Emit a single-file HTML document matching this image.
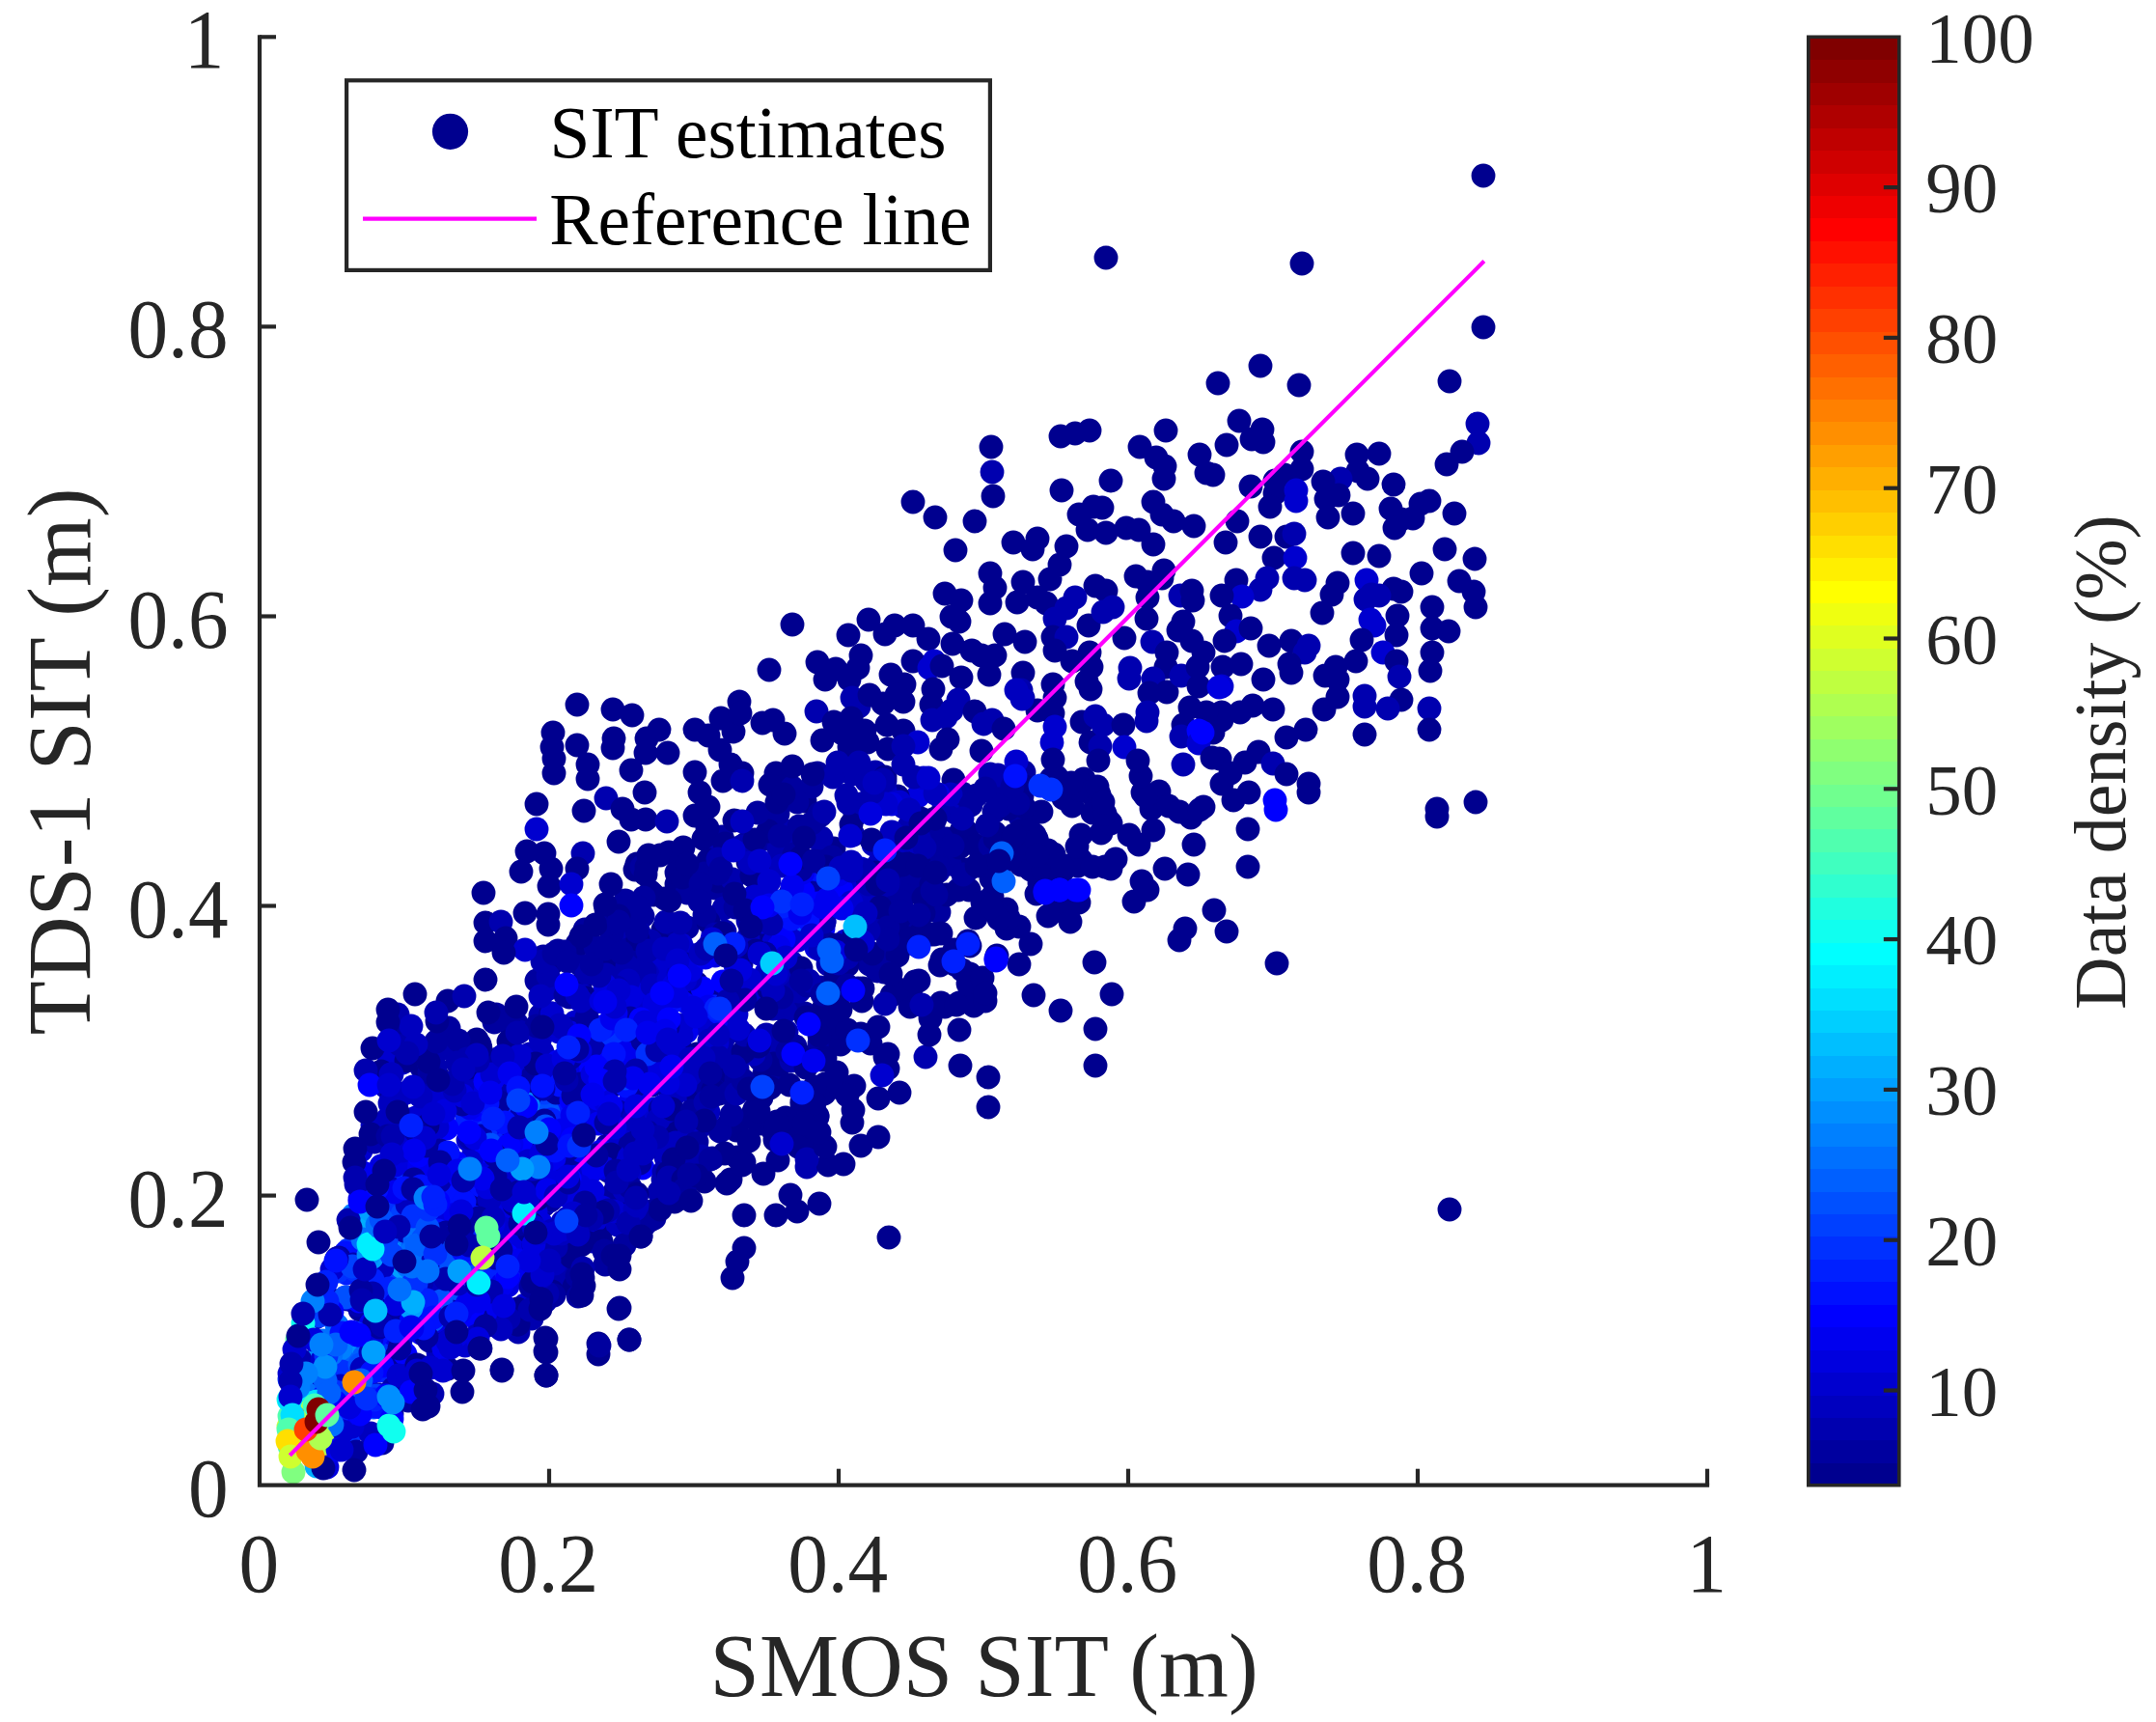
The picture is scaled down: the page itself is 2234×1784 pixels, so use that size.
<!DOCTYPE html>
<html lang="en"><head><meta charset="utf-8"><title>SIT scatter</title>
<style>html,body{margin:0;padding:0;background:#fff;overflow:hidden}svg{display:block}text{font-family:"Liberation Serif",serif}</style></head><body>
<svg width="2234" height="1784" viewBox="0 0 2234 1784">
<rect width="2234" height="1784" fill="#fff"/>
<g id="dots">
<g fill="none" stroke-linecap="round" stroke-width="24.9"><path stroke="#0000CF" d="M656 1198h0"/>
<path stroke="#0000BF" d="M444 1155h0M439 1194h0"/>
<path stroke="#0000DF" d="M826 895h0"/>
<path stroke="#00008F" d="M604 1324h0"/>
<path stroke="#0000CF" d="M596 1059h0"/>
<path stroke="#0000FF" d="M491 1166h0"/>
<path stroke="#00008F" d="M753 1226h0"/>
<path stroke="#00009F" d="M738 1200h0M602 1000h0"/>
<path stroke="#00008F" d="M728 1118h0"/>
<path stroke="#0000AF" d="M723 1170h0"/>
<path stroke="#0000CF" d="M785 1032h0"/>
<path stroke="#00009F" d="M517 1274h0"/>
<path stroke="#0000EF" d="M605 1108h0"/>
<path stroke="#0080FF" d="M404 1262h0"/>
<path stroke="#0040FF" d="M381 1445h0"/>
<path stroke="#00009F" d="M497 1082h0"/>
<path stroke="#0000BF" d="M562 1090h0"/>
<path stroke="#00008F" d="M988 808h0"/>
<path stroke="#0000AF" d="M436 1292h0"/>
<path stroke="#00008F" d="M970 942h0M649 1185h0"/>
<path stroke="#0000EF" d="M420 1432h0"/>
<path stroke="#0000BF" d="M895 981h0"/>
<path stroke="#0030FF" d="M669 1093h0"/>
<path stroke="#0000AF" d="M984 829h0"/>
<path stroke="#0000FF" d="M421 1353h0"/>
<path stroke="#0000AF" d="M430 1363h0"/>
<path stroke="#00009F" d="M857 882h0M671 1057h0"/>
<path stroke="#0010FF" d="M402 1332h0"/>
<path stroke="#0000BF" d="M443 1334h0"/>
<path stroke="#0050FF" d="M372 1393h0"/>
<path stroke="#0080FF" d="M414 1296h0"/>
<path stroke="#0000BF" d="M327 1365h0"/>
<path stroke="#00008F" d="M1107 897h0M761 931h0"/>
<path stroke="#0000BF" d="M454 1401h0"/>
<path stroke="#0010FF" d="M348 1464h0"/>
<path stroke="#00009F" d="M759 988h0"/>
<path stroke="#0000AF" d="M884 865h0"/>
<path stroke="#00008F" d="M911 1002h0"/>
<path stroke="#00009F" d="M748 867h0"/>
<path stroke="#0040FF" d="M452 1301h0"/>
<path stroke="#00008F" d="M1234 847h0"/>
<path stroke="#0000CF" d="M599 1213h0"/>
<path stroke="#00009F" d="M449 1254h0"/>
<path stroke="#0000AF" d="M386 1455h0"/>
<path stroke="#00BFFF" d="M400 1244h0"/>
<path stroke="#00008F" d="M788 1164h0M656 1148h0"/>
<path stroke="#0030FF" d="M409 1331h0"/>
<path stroke="#00008F" d="M838 1102h0"/>
<path stroke="#0000AF" d="M588 1320h0"/>
<path stroke="#0000DF" d="M418 1416h0"/>
<path stroke="#0000BF" d="M550 1251h0"/>
<path stroke="#0000CF" d="M692 1126h0"/>
<path stroke="#0010FF" d="M840 950h0"/>
<path stroke="#0000EF" d="M588 1196h0"/>
<path stroke="#0000AF" d="M651 974h0M746 1035h0"/>
<path stroke="#0070FF" d="M338 1403h0"/>
<path stroke="#00008F" d="M1193 838h0M867 1111h0"/>
<path stroke="#0000AF" d="M551 1366h0"/>
<path stroke="#00009F" d="M972 903h0"/>
<path stroke="#0000FF" d="M552 1170h0"/>
<path stroke="#00009F" d="M666 949h0"/>
<path stroke="#00008F" d="M1123 807h0"/>
<path stroke="#0080FF" d="M366 1259h0"/>
<path stroke="#00008F" d="M1031 863h0"/>
<path stroke="#00009F" d="M486 1261h0"/>
<path stroke="#0000FF" d="M521 1260h0"/>
<path stroke="#00008F" d="M1139 823h0"/>
<path stroke="#00009F" d="M557 1202h0"/>
<path stroke="#0040FF" d="M437 1230h0"/>
<path stroke="#0000EF" d="M490 1248h0"/>
<path stroke="#00008F" d="M809 1082h0M942 909h0"/>
<path stroke="#0000EF" d="M588 1154h0"/>
<path stroke="#0000AF" d="M663 985h0"/>
<path stroke="#0000BF" d="M374 1455h0"/>
<path stroke="#0000AF" d="M792 1112h0"/>
<path stroke="#0030FF" d="M579 1128h0"/>
<path stroke="#00008F" d="M1141 863h0M687 963h0M674 1264h0"/>
<path stroke="#0000CF" d="M716 1163h0"/>
<path stroke="#00008F" d="M693 883h0"/>
<path stroke="#10FFEF" d="M299 1450h0"/>
<path stroke="#0000BF" d="M549 1092h0"/>
<path stroke="#0000DF" d="M526 1332h0"/>
<path stroke="#00008F" d="M598 978h0"/>
<path stroke="#0000EF" d="M385 1457h0"/>
<path stroke="#0000DF" d="M678 1149h0"/>
<path stroke="#00009F" d="M563 1249h0"/>
<path stroke="#0050FF" d="M422 1258h0"/>
<path stroke="#0000BF" d="M614 1286h0"/>
<path stroke="#0000FF" d="M523 1161h0"/>
<path stroke="#0000AF" d="M666 992h0M741 1134h0M459 1160h0"/>
<path stroke="#00009F" d="M762 1051h0"/>
<path stroke="#0020FF" d="M386 1453h0"/>
<path stroke="#00008F" d="M758 1124h0M764 1199h0"/>
<path stroke="#00009F" d="M702 1228h0M912 993h0"/>
<path stroke="#0000BF" d="M408 1302h0"/>
<path stroke="#00009F" d="M658 1148h0"/>
<path stroke="#00008F" d="M604 1273h0"/>
<path stroke="#0000EF" d="M540 1272h0"/>
<path stroke="#00008F" d="M454 1078h0"/>
<path stroke="#0000AF" d="M943 902h0"/>
<path stroke="#0000EF" d="M393 1385h0"/>
<path stroke="#0000BF" d="M582 1226h0"/>
<path stroke="#00009F" d="M590 1033h0"/>
<path stroke="#0010FF" d="M391 1398h0"/>
<path stroke="#0000BF" d="M748 1063h0M444 1132h0"/>
<path stroke="#0050FF" d="M325 1421h0"/>
<path stroke="#BFFF40" d="M299 1478h0"/>
<path stroke="#0000FF" d="M426 1363h0"/>
<path stroke="#00009F" d="M535 1060h0"/>
<path stroke="#0010FF" d="M847 912h0"/>
<path stroke="#0000EF" d="M583 1208h0"/>
<path stroke="#00009F" d="M710 898h0"/>
<path stroke="#0000EF" d="M760 1055h0"/>
<path stroke="#0000BF" d="M891 968h0"/>
<path stroke="#0000FF" d="M554 1201h0"/>
<path stroke="#0070FF" d="M414 1292h0"/>
<path stroke="#00008F" d="M1053 879h0"/>
<path stroke="#00FFFF" d="M407 1273h0"/>
<path stroke="#00009F" d="M546 1184h0M550 1189h0"/>
<path stroke="#0000EF" d="M370 1418h0"/>
<path stroke="#0020FF" d="M484 1159h0"/>
<path stroke="#00009F" d="M792 869h0"/>
<path stroke="#0000AF" d="M578 1324h0"/>
<path stroke="#0000DF" d="M476 1385h0"/>
<path stroke="#0000EF" d="M588 1160h0"/>
<path stroke="#00009F" d="M850 1023h0"/>
<path stroke="#0000AF" d="M794 1072h0"/>
<path stroke="#0000DF" d="M685 1018h0"/>
<path stroke="#0020FF" d="M502 1317h0"/>
<path stroke="#0000BF" d="M690 1199h0"/>
<path stroke="#0030FF" d="M506 1188h0"/>
<path stroke="#0010FF" d="M430 1367h0"/>
<path stroke="#0000BF" d="M777 932h0"/>
<path stroke="#0000CF" d="M672 1109h0"/>
<path stroke="#0000EF" d="M461 1377h0"/>
<path stroke="#0000DF" d="M570 1201h0M591 1107h0"/>
<path stroke="#0000FF" d="M597 1100h0"/>
<path stroke="#00009F" d="M1030 822h0M483 1275h0"/>
<path stroke="#0000AF" d="M566 1187h0"/>
<path stroke="#0070FF" d="M429 1306h0"/>
<path stroke="#0000BF" d="M826 898h0M700 981h0"/>
<path stroke="#008FFF" d="M451 1344h0"/>
<path stroke="#00009F" d="M741 920h0"/>
<path stroke="#0010FF" d="M479 1344h0"/>
<path stroke="#0000BF" d="M328 1356h0"/>
<path stroke="#0000FF" d="M499 1182h0M857 911h0"/>
<path stroke="#0000CF" d="M614 1241h0"/>
<path stroke="#00008F" d="M744 913h0"/>
<path stroke="#0000FF" d="M359 1447h0"/>
<path stroke="#00008F" d="M635 961h0M684 886h0"/>
<path stroke="#0000AF" d="M807 879h0"/>
<path stroke="#0000EF" d="M578 1100h0"/>
<path stroke="#0000AF" d="M565 1348h0"/>
<path stroke="#0000BF" d="M508 1100h0"/>
<path stroke="#0000AF" d="M506 1316h0"/>
<path stroke="#00AFFF" d="M316 1443h0"/>
<path stroke="#009FFF" d="M406 1276h0"/>
<path stroke="#0000EF" d="M397 1208h0"/>
<path stroke="#00008F" d="M701 1205h0"/>
<path stroke="#0000BF" d="M516 1098h0"/>
<path stroke="#0000CF" d="M738 984h0"/>
<path stroke="#0000EF" d="M535 1192h0"/>
<path stroke="#0030FF" d="M354 1404h0"/>
<path stroke="#0000FF" d="M638 1108h0"/>
<path stroke="#0000AF" d="M560 1052h0M823 870h0"/>
<path stroke="#00008F" d="M729 869h0M996 861h0"/>
<path stroke="#0000EF" d="M629 1107h0"/>
<path stroke="#00009F" d="M753 1096h0"/>
<path stroke="#008FFF" d="M376 1295h0"/>
<path stroke="#00009F" d="M820 1026h0M816 1041h0M662 1043h0"/>
<path stroke="#0000FF" d="M453 1256h0"/>
<path stroke="#0070FF" d="M309 1418h0"/>
<path stroke="#0000CF" d="M708 1103h0"/>
<path stroke="#0000AF" d="M596 1283h0"/>
<path stroke="#0010FF" d="M366 1460h0"/>
<path stroke="#00009F" d="M529 1233h0"/>
<path stroke="#0000EF" d="M540 1197h0"/>
<path stroke="#00008F" d="M939 970h0"/>
<path stroke="#00009F" d="M519 1284h0"/>
<path stroke="#0000CF" d="M691 1093h0"/>
<path stroke="#0000FF" d="M538 1157h0"/>
<path stroke="#00008F" d="M864 879h0"/>
<path stroke="#0000AF" d="M917 897h0"/>
<path stroke="#0000BF" d="M839 973h0"/>
<path stroke="#00009F" d="M551 1299h0"/>
<path stroke="#0000DF" d="M631 1165h0"/>
<path stroke="#0000EF" d="M615 1210h0"/>
<path stroke="#0060FF" d="M394 1281h0"/>
<path stroke="#0000BF" d="M712 1099h0"/>
<path stroke="#0000EF" d="M653 1141h0"/>
<path stroke="#00009F" d="M741 1038h0"/>
<path stroke="#0000DF" d="M539 1233h0"/>
<path stroke="#0000CF" d="M535 1206h0"/>
<path stroke="#0000AF" d="M342 1346h0"/>
<path stroke="#0000DF" d="M951 825h0"/>
<path stroke="#0000AF" d="M815 1069h0"/>
<path stroke="#0000BF" d="M910 896h0"/>
<path stroke="#0000AF" d="M907 800h0"/>
<path stroke="#00008F" d="M847 1156h0"/>
<path stroke="#0000CF" d="M682 1000h0"/>
<path stroke="#00009F" d="M928 897h0"/>
<path stroke="#0000DF" d="M740 1043h0"/>
<path stroke="#0000FF" d="M443 1218h0"/>
<path stroke="#00009F" d="M636 1124h0"/>
<path stroke="#00BFFF" d="M364 1305h0"/>
<path stroke="#0000AF" d="M683 1235h0M804 1026h0"/>
<path stroke="#0000FF" d="M666 1210h0"/>
<path stroke="#0010FF" d="M526 1195h0"/>
<path stroke="#00008F" d="M572 1338h0M883 910h0"/>
<path stroke="#00009F" d="M373 1357h0"/>
<path stroke="#00008F" d="M975 1039h0"/>
<path stroke="#0010FF" d="M455 1380h0"/>
<path stroke="#0000AF" d="M749 1088h0"/>
<path stroke="#0050FF" d="M447 1239h0"/>
<path stroke="#0000AF" d="M1026 802h0"/>
<path stroke="#20FFDF" d="M339 1492h0"/>
<path stroke="#0000AF" d="M751 965h0"/>
<path stroke="#00008F" d="M601 1021h0"/>
<path stroke="#0000CF" d="M876 919h0"/>
<path stroke="#0000DF" d="M362 1487h0"/>
<path stroke="#00008F" d="M791 965h0"/>
<path stroke="#00009F" d="M814 962h0"/>
<path stroke="#0000CF" d="M500 1240h0M708 1066h0"/>
<path stroke="#0000BF" d="M405 1169h0M400 1253h0"/>
<path stroke="#00009F" d="M514 1051h0"/>
<path stroke="#0000CF" d="M644 1239h0"/>
<path stroke="#0000AF" d="M744 887h0M814 861h0"/>
<path stroke="#0000DF" d="M410 1210h0"/>
<path stroke="#0010FF" d="M386 1329h0"/>
<path stroke="#0000EF" d="M498 1147h0"/>
<path stroke="#00009F" d="M546 1113h0"/>
<path stroke="#00008F" d="M834 830h0M698 1161h0M964 968h0"/>
<path stroke="#00009F" d="M606 963h0"/>
<path stroke="#0000EF" d="M468 1241h0"/>
<path stroke="#0070FF" d="M634 1066h0"/>
<path stroke="#0000EF" d="M711 1038h0"/>
<path stroke="#00009F" d="M629 1187h0"/>
<path stroke="#00008F" d="M847 1157h0"/>
<path stroke="#00009F" d="M806 843h0"/>
<path stroke="#0000AF" d="M768 880h0"/>
<path stroke="#0000DF" d="M478 1219h0"/>
<path stroke="#00009F" d="M395 1375h0"/>
<path stroke="#00008F" d="M595 1333h0"/>
<path stroke="#0000FF" d="M643 1051h0"/>
<path stroke="#00008F" d="M722 1019h0"/>
<path stroke="#0030FF" d="M407 1258h0"/>
<path stroke="#00008F" d="M623 987h0"/>
<path stroke="#0000EF" d="M544 1208h0"/>
<path stroke="#0000FF" d="M561 1115h0"/>
<path stroke="#0000AF" d="M538 1069h0M714 989h0"/>
<path stroke="#0000EF" d="M458 1366h0"/>
<path stroke="#00009F" d="M484 1084h0"/>
<path stroke="#0000FF" d="M344 1460h0"/>
<path stroke="#0000CF" d="M702 1116h0M549 1255h0M561 1242h0"/>
<path stroke="#0000DF" d="M588 1109h0"/>
<path stroke="#00009F" d="M1040 819h0M834 1050h0"/>
<path stroke="#0000DF" d="M541 1221h0"/>
<path stroke="#0020FF" d="M452 1352h0"/>
<path stroke="#0000FF" d="M504 1175h0"/>
<path stroke="#0000BF" d="M560 1075h0"/>
<path stroke="#00009F" d="M768 999h0"/>
<path stroke="#0040FF" d="M369 1278h0"/>
<path stroke="#00008F" d="M642 1018h0"/>
<path stroke="#0000CF" d="M777 959h0"/>
<path stroke="#0000AF" d="M547 1162h0"/>
<path stroke="#0000CF" d="M618 1038h0"/>
<path stroke="#0000DF" d="M847 972h0"/>
<path stroke="#00008F" d="M1077 915h0"/>
<path stroke="#0010FF" d="M502 1157h0"/>
<path stroke="#0040FF" d="M388 1416h0"/>
<path stroke="#0050FF" d="M399 1286h0"/>
<path stroke="#00009F" d="M638 1177h0"/>
<path stroke="#0000AF" d="M486 1234h0"/>
<path stroke="#0000BF" d="M689 1044h0M910 942h0M637 1251h0"/>
<path stroke="#0000AF" d="M416 1162h0"/>
<path stroke="#00008F" d="M892 1073h0"/>
<path stroke="#0000DF" d="M476 1222h0"/>
<path stroke="#00009F" d="M849 843h0"/>
<path stroke="#0000AF" d="M915 920h0M851 868h0M335 1404h0"/>
<path stroke="#0000FF" d="M495 1149h0"/>
<path stroke="#0000CF" d="M753 983h0"/>
<path stroke="#00009F" d="M973 945h0"/>
<path stroke="#0000FF" d="M577 1189h0"/>
<path stroke="#00008F" d="M1120 812h0"/>
<path stroke="#0000EF" d="M495 1189h0"/>
<path stroke="#00008F" d="M855 1123h0M1120 891h0"/>
<path stroke="#0000FF" d="M625 1085h0"/>
<path stroke="#00009F" d="M709 1067h0"/>
<path stroke="#0010FF" d="M343 1440h0"/>
<path stroke="#00008F" d="M733 858h0"/>
<path stroke="#00009F" d="M990 873h0"/>
<path stroke="#0000FF" d="M849 950h0"/>
<path stroke="#00008F" d="M924 1031h0"/>
<path stroke="#0000EF" d="M615 1212h0"/>
<path stroke="#00009F" d="M942 890h0"/>
<path stroke="#00008F" d="M622 1277h0M1170 865h0"/>
<path stroke="#0000DF" d="M493 1131h0"/>
<path stroke="#00008F" d="M1058 896h0"/>
<path stroke="#30FFCF" d="M313 1452h0"/>
<path stroke="#00008F" d="M1034 873h0"/>
<path stroke="#0030FF" d="M460 1317h0"/>
<path stroke="#10FFEF" d="M335 1475h0"/>
<path stroke="#0000EF" d="M519 1281h0"/>
<path stroke="#0060FF" d="M416 1286h0"/>
<path stroke="#0000AF" d="M505 1300h0M455 1380h0"/>
<path stroke="#00009F" d="M560 1112h0"/>
<path stroke="#0000AF" d="M390 1340h0"/>
<path stroke="#00008F" d="M1145 898h0"/>
<path stroke="#0000FF" d="M435 1239h0"/>
<path stroke="#0010FF" d="M507 1265h0"/>
<path stroke="#00009F" d="M636 1236h0"/>
<path stroke="#0030FF" d="M361 1295h0"/>
<path stroke="#0000EF" d="M506 1237h0"/>
<path stroke="#0000CF" d="M794 911h0"/>
<path stroke="#0000BF" d="M902 835h0"/>
<path stroke="#0000AF" d="M747 1130h0"/>
<path stroke="#00009F" d="M860 910h0"/>
<path stroke="#0020FF" d="M740 1043h0"/>
<path stroke="#0000AF" d="M636 1006h0"/>
<path stroke="#0080FF" d="M445 1370h0"/>
<path stroke="#0000EF" d="M415 1381h0"/>
<path stroke="#00009F" d="M483 1256h0"/>
<path stroke="#0060FF" d="M352 1433h0"/>
<path stroke="#0020FF" d="M359 1319h0"/>
<path stroke="#0080FF" d="M404 1285h0"/>
<path stroke="#0000DF" d="M525 1251h0"/>
<path stroke="#0000BF" d="M936 836h0"/>
<path stroke="#00008F" d="M631 1018h0"/>
<path stroke="#00009F" d="M698 958h0"/>
<path stroke="#00008F" d="M893 1037h0"/>
<path stroke="#0000DF" d="M646 1187h0M678 1070h0"/>
<path stroke="#0000AF" d="M398 1086h0"/>
<path stroke="#0010FF" d="M610 1135h0"/>
<path stroke="#00009F" d="M694 1151h0"/>
<path stroke="#00008F" d="M952 1016h0"/>
<path stroke="#0040FF" d="M473 1342h0"/>
<path stroke="#0000CF" d="M466 1139h0"/>
<path stroke="#00008F" d="M1089 807h0"/>
<path stroke="#0000AF" d="M491 1113h0"/>
<path stroke="#0000CF" d="M600 1069h0"/>
<path stroke="#FFFF00" d="M331 1490h0"/>
<path stroke="#0000CF" d="M514 1367h0"/>
<path stroke="#00008F" d="M1184 821h0"/>
<path stroke="#FF8000" d="M308 1496h0"/>
<path stroke="#00009F" d="M773 874h0M841 815h0"/>
<path stroke="#0000CF" d="M892 900h0"/>
<path stroke="#0000AF" d="M641 1103h0"/>
<path stroke="#50FFAF" d="M300 1467h0"/>
<path stroke="#00009F" d="M930 936h0"/>
<path stroke="#0000AF" d="M688 1214h0"/>
<path stroke="#0000FF" d="M399 1334h0"/>
<path stroke="#0000AF" d="M858 999h0M397 1345h0"/>
<path stroke="#0000EF" d="M506 1309h0"/>
<path stroke="#0000AF" d="M469 1086h0"/>
<path stroke="#00008F" d="M1011 951h0"/>
<path stroke="#0000DF" d="M655 1047h0"/>
<path stroke="#00008F" d="M989 984h0"/>
<path stroke="#0000DF" d="M659 1131h0"/>
<path stroke="#0000EF" d="M487 1148h0"/>
<path stroke="#0000BF" d="M719 1135h0"/>
<path stroke="#0000DF" d="M679 1104h0M846 982h0"/>
<path stroke="#0000FF" d="M610 1197h0"/>
<path stroke="#00008F" d="M1201 820h0"/>
<path stroke="#0000DF" d="M524 1262h0"/>
<path stroke="#0000BF" d="M738 974h0"/>
<path stroke="#00008F" d="M930 825h0"/>
<path stroke="#0000EF" d="M671 1103h0"/>
<path stroke="#0000FF" d="M610 1162h0"/>
<path stroke="#0010FF" d="M576 1145h0"/>
<path stroke="#0000CF" d="M880 898h0"/>
<path stroke="#0000BF" d="M889 834h0"/>
<path stroke="#0000DF" d="M496 1131h0"/>
<path stroke="#00008F" d="M943 1043h0"/>
<path stroke="#0000DF" d="M684 1107h0"/>
<path stroke="#00008F" d="M1150 852h0"/>
<path stroke="#0000CF" d="M403 1101h0"/>
<path stroke="#00009F" d="M802 1111h0"/>
<path stroke="#0000DF" d="M429 1206h0"/>
<path stroke="#00009F" d="M667 1270h0"/>
<path stroke="#00008F" d="M942 967h0"/>
<path stroke="#0020FF" d="M380 1399h0"/>
<path stroke="#0000BF" d="M386 1166h0"/>
<path stroke="#0000AF" d="M472 1319h0"/>
<path stroke="#0000EF" d="M501 1350h0"/>
<path stroke="#0070FF" d="M538 1144h0"/>
<path stroke="#00008F" d="M930 990h0"/>
<path stroke="#00009F" d="M663 1205h0"/>
<path stroke="#0000DF" d="M806 934h0"/>
<path stroke="#00008F" d="M512 1236h0"/>
<path stroke="#0000AF" d="M662 966h0"/>
<path stroke="#0000BF" d="M777 1083h0"/>
<path stroke="#00009F" d="M759 1025h0"/>
<path stroke="#0000DF" d="M865 909h0"/>
<path stroke="#0000EF" d="M401 1395h0"/>
<path stroke="#0000AF" d="M883 802h0"/>
<path stroke="#0000BF" d="M640 1269h0"/>
<path stroke="#00008F" d="M777 933h0"/>
<path stroke="#00009F" d="M594 988h0"/>
<path stroke="#0040FF" d="M414 1323h0"/>
<path stroke="#0000AF" d="M942 856h0"/>
<path stroke="#0000BF" d="M762 939h0"/>
<path stroke="#0000DF" d="M540 1102h0M550 1268h0"/>
<path stroke="#00009F" d="M847 801h0"/>
<path stroke="#0070FF" d="M389 1248h0"/>
<path stroke="#0000BF" d="M782 928h0"/>
<path stroke="#0000FF" d="M409 1411h0"/>
<path stroke="#00009F" d="M663 1272h0"/>
<path stroke="#0000AF" d="M555 1359h0"/>
<path stroke="#0000DF" d="M608 1070h0"/>
<path stroke="#0000AF" d="M444 1259h0"/>
<path stroke="#00008F" d="M645 1258h0M708 878h0"/>
<path stroke="#00009F" d="M598 1322h0"/>
<path stroke="#00008F" d="M701 916h0M634 1003h0"/>
<path stroke="#0000FF" d="M640 1074h0"/>
<path stroke="#00009F" d="M824 1084h0"/>
<path stroke="#0020FF" d="M510 1331h0"/>
<path stroke="#00009F" d="M574 1342h0"/>
<path stroke="#0000AF" d="M775 954h0"/>
<path stroke="#0000CF" d="M688 1182h0"/>
<path stroke="#0000EF" d="M563 1221h0"/>
<path stroke="#0000CF" d="M521 1097h0"/>
<path stroke="#00009F" d="M676 1124h0"/>
<path stroke="#0000FF" d="M392 1224h0"/>
<path stroke="#0000BF" d="M383 1306h0"/>
<path stroke="#0040FF" d="M400 1297h0"/>
<path stroke="#00008F" d="M660 895h0"/>
<path stroke="#0000CF" d="M617 1264h0"/>
<path stroke="#0020FF" d="M447 1289h0"/>
<path stroke="#0000AF" d="M889 932h0"/>
<path stroke="#0030FF" d="M350 1317h0"/>
<path stroke="#0000BF" d="M890 943h0"/>
<path stroke="#00008F" d="M665 1022h0"/>
<path stroke="#0000BF" d="M680 1187h0"/>
<path stroke="#0000AF" d="M694 1213h0"/>
<path stroke="#0000CF" d="M567 1299h0"/>
<path stroke="#00008F" d="M751 874h0"/>
<path stroke="#0000CF" d="M791 955h0"/>
<path stroke="#009FFF" d="M406 1299h0"/>
<path stroke="#0000DF" d="M544 1319h0"/>
<path stroke="#0070FF" d="M349 1373h0"/>
<path stroke="#00009F" d="M780 1086h0"/>
<path stroke="#0000BF" d="M786 939h0"/>
<path stroke="#00009F" d="M779 1086h0"/>
<path stroke="#00008F" d="M1072 865h0"/>
<path stroke="#00009F" d="M781 1153h0M593 1066h0"/>
<path stroke="#0000AF" d="M505 1226h0"/>
<path stroke="#00009F" d="M932 917h0"/>
<path stroke="#0020FF" d="M444 1237h0"/>
<path stroke="#0000AF" d="M441 1128h0"/>
<path stroke="#0010FF" d="M523 1160h0"/>
<path stroke="#00008F" d="M775 893h0"/>
<path stroke="#0000FF" d="M527 1299h0"/>
<path stroke="#00009F" d="M658 1125h0"/>
<path stroke="#00DFFF" d="M342 1481h0"/>
<path stroke="#0000BF" d="M401 1160h0"/>
<path stroke="#00009F" d="M590 1183h0"/>
<path stroke="#0000DF" d="M602 1173h0"/>
<path stroke="#0000AF" d="M990 842h0M453 1080h0"/>
<path stroke="#00008F" d="M745 1133h0"/>
<path stroke="#0030FF" d="M394 1403h0"/>
<path stroke="#0000FF" d="M496 1200h0"/>
<path stroke="#0000AF" d="M371 1352h0"/>
<path stroke="#0000BF" d="M651 1184h0"/>
<path stroke="#0050FF" d="M374 1443h0"/>
<path stroke="#0000FF" d="M421 1359h0"/>
<path stroke="#0030FF" d="M441 1335h0"/>
<path stroke="#0000AF" d="M416 1439h0"/>
<path stroke="#00008F" d="M1082 883h0M907 904h0"/>
<path stroke="#00009F" d="M574 1171h0"/>
<path stroke="#0000AF" d="M445 1223h0"/>
<path stroke="#0020FF" d="M505 1187h0"/>
<path stroke="#00008F" d="M944 1025h0"/>
<path stroke="#0010FF" d="M610 1085h0"/>
<path stroke="#00009F" d="M634 967h0"/>
<path stroke="#0000AF" d="M441 1361h0M724 1100h0"/>
<path stroke="#0030FF" d="M419 1366h0"/>
<path stroke="#00009F" d="M941 950h0"/>
<path stroke="#0000AF" d="M745 1109h0"/>
<path stroke="#0000BF" d="M883 835h0"/>
<path stroke="#0010FF" d="M592 1144h0"/>
<path stroke="#00AFFF" d="M382 1272h0"/>
<path stroke="#0050FF" d="M448 1317h0"/>
<path stroke="#0000AF" d="M657 1076h0"/>
<path stroke="#0020FF" d="M338 1404h0"/>
<path stroke="#0000FF" d="M463 1169h0"/>
<path stroke="#0000AF" d="M808 1032h0M437 1106h0"/>
<path stroke="#0000DF" d="M535 1215h0"/>
<path stroke="#0000AF" d="M750 941h0"/>
<path stroke="#0010FF" d="M358 1298h0"/>
<path stroke="#008FFF" d="M351 1409h0"/>
<path stroke="#0000DF" d="M517 1275h0"/>
<path stroke="#0010FF" d="M447 1281h0"/>
<path stroke="#0000FF" d="M728 1024h0"/>
<path stroke="#0000AF" d="M608 1008h0"/>
<path stroke="#0000BF" d="M917 819h0"/>
<path stroke="#8FFF70" d="M325 1506h0"/>
<path stroke="#00008F" d="M1035 902h0"/>
<path stroke="#0040FF" d="M400 1317h0"/>
<path stroke="#FFCF00" d="M328 1508h0"/>
<path stroke="#0000EF" d="M539 1196h0"/>
<path stroke="#0000BF" d="M820 997h0"/>
<path stroke="#0070FF" d="M360 1443h0"/>
<path stroke="#0000DF" d="M409 1370h0"/>
<path stroke="#00009F" d="M1057 846h0"/>
<path stroke="#0000AF" d="M537 1380h0"/>
<path stroke="#0010FF" d="M418 1419h0"/>
<path stroke="#0000CF" d="M641 1040h0"/>
<path stroke="#0020FF" d="M466 1339h0"/>
<path stroke="#0000CF" d="M613 1148h0"/>
<path stroke="#00008F" d="M647 996h0"/>
<path stroke="#0000AF" d="M777 879h0"/>
<path stroke="#0010FF" d="M494 1349h0"/>
<path stroke="#00008F" d="M957 946h0"/>
<path stroke="#00009F" d="M544 1259h0"/>
<path stroke="#0000EF" d="M516 1185h0"/>
<path stroke="#00009F" d="M520 1140h0M516 1294h0"/>
<path stroke="#0000EF" d="M479 1213h0M673 1069h0"/>
<path stroke="#00008F" d="M820 1173h0"/>
<path stroke="#0000CF" d="M556 1213h0"/>
<path stroke="#00008F" d="M536 1372h0"/>
<path stroke="#0000CF" d="M805 987h0"/>
<path stroke="#00009F" d="M360 1346h0"/>
<path stroke="#00008F" d="M815 1016h0"/>
<path stroke="#0000BF" d="M575 1309h0"/>
<path stroke="#00008F" d="M1043 942h0"/>
<path stroke="#0000BF" d="M934 873h0"/>
<path stroke="#0000AF" d="M644 1170h0"/>
<path stroke="#0030FF" d="M433 1359h0"/>
<path stroke="#0020FF" d="M394 1420h0"/>
<path stroke="#00008F" d="M757 1222h0M1005 1009h0"/>
<path stroke="#0000CF" d="M668 1114h0"/>
<path stroke="#0000BF" d="M400 1126h0"/>
<path stroke="#00008F" d="M781 1152h0M1074 926h0"/>
<path stroke="#0000CF" d="M637 1255h0"/>
<path stroke="#00008F" d="M961 862h0"/>
<path stroke="#0000DF" d="M434 1451h0"/>
<path stroke="#0000CF" d="M689 1006h0"/>
<path stroke="#00009F" d="M657 1032h0"/>
<path stroke="#0000AF" d="M412 1167h0"/>
<path stroke="#0000DF" d="M492 1243h0M741 990h0"/>
<path stroke="#0000EF" d="M436 1381h0"/>
<path stroke="#0010FF" d="M497 1299h0"/>
<path stroke="#0000AF" d="M506 1336h0"/>
<path stroke="#0000BF" d="M715 1014h0"/>
<path stroke="#00008F" d="M817 1029h0"/>
<path stroke="#009FFF" d="M417 1313h0"/>
<path stroke="#0000FF" d="M492 1365h0"/>
<path stroke="#0000CF" d="M739 968h0M639 1190h0M417 1101h0"/>
<path stroke="#0000FF" d="M434 1272h0"/>
<path stroke="#0000AF" d="M917 809h0"/>
<path stroke="#00008F" d="M701 1121h0"/>
<path stroke="#0000DF" d="M624 1251h0"/>
<path stroke="#0050FF" d="M451 1322h0"/>
<path stroke="#00009F" d="M440 1417h0"/>
<path stroke="#0000CF" d="M491 1195h0"/>
<path stroke="#0000AF" d="M658 1183h0"/>
<path stroke="#00008F" d="M732 1152h0"/>
<path stroke="#0000BF" d="M329 1407h0M448 1154h0"/>
<path stroke="#00009F" d="M762 940h0"/>
<path stroke="#0080FF" d="M437 1316h0"/>
<path stroke="#0030FF" d="M364 1483h0"/>
<path stroke="#00009F" d="M712 925h0"/>
<path stroke="#0000EF" d="M523 1314h0"/>
<path stroke="#00008F" d="M658 901h0"/>
<path stroke="#0000CF" d="M957 806h0"/>
<path stroke="#0000AF" d="M459 1086h0"/>
<path stroke="#00008F" d="M974 1000h0M496 1104h0"/>
<path stroke="#0000BF" d="M483 1390h0M825 1013h0"/>
<path stroke="#00008F" d="M1094 934h0"/>
<path stroke="#00009F" d="M843 1062h0"/>
<path stroke="#0000DF" d="M429 1431h0"/>
<path stroke="#00009F" d="M819 926h0"/>
<path stroke="#0000CF" d="M544 1352h0"/>
<path stroke="#00009F" d="M571 998h0M954 892h0"/>
<path stroke="#0030FF" d="M349 1397h0"/>
<path stroke="#0000CF" d="M415 1389h0"/>
<path stroke="#0000FF" d="M466 1305h0"/>
<path stroke="#0000AF" d="M759 911h0"/>
<path stroke="#0060FF" d="M437 1258h0"/>
<path stroke="#0000FF" d="M823 928h0"/>
<path stroke="#00008F" d="M1133 825h0"/>
<path stroke="#0030FF" d="M415 1244h0"/>
<path stroke="#0000CF" d="M562 1296h0"/>
<path stroke="#0010FF" d="M837 923h0"/>
<path stroke="#0030FF" d="M511 1310h0"/>
<path stroke="#0070FF" d="M334 1411h0"/>
<path stroke="#0000DF" d="M339 1520h0"/>
<path stroke="#00008F" d="M455 1117h0"/>
<path stroke="#0000AF" d="M468 1122h0"/>
<path stroke="#0000DF" d="M762 1000h0"/>
<path stroke="#0000AF" d="M644 1012h0"/>
<path stroke="#0070FF" d="M335 1389h0"/>
<path stroke="#0000AF" d="M396 1312h0"/>
<path stroke="#0000DF" d="M579 1222h0"/>
<path stroke="#0000CF" d="M734 1066h0"/>
<path stroke="#0000AF" d="M806 891h0"/>
<path stroke="#0000CF" d="M639 1204h0"/>
<path stroke="#0000AF" d="M674 975h0"/>
<path stroke="#0000CF" d="M715 1104h0"/>
<path stroke="#00009F" d="M351 1303h0"/>
<path stroke="#0000CF" d="M563 1241h0"/>
<path stroke="#00008F" d="M996 901h0"/>
<path stroke="#0040FF" d="M462 1293h0"/>
<path stroke="#00008F" d="M763 1171h0"/>
<path stroke="#40FFBF" d="M311 1451h0"/>
<path stroke="#0000CF" d="M540 1215h0"/>
<path stroke="#0000EF" d="M481 1260h0"/>
<path stroke="#0000FF" d="M542 1169h0"/>
<path stroke="#0000BF" d="M605 1032h0"/>
<path stroke="#0000EF" d="M853 962h0"/>
<path stroke="#0010FF" d="M640 1109h0"/>
<path stroke="#0000AF" d="M713 1119h0"/>
<path stroke="#0010FF" d="M460 1200h0"/>
<path stroke="#00009F" d="M537 1235h0M547 1199h0"/>
<path stroke="#0000CF" d="M602 1167h0"/>
<path stroke="#00009F" d="M513 1361h0"/>
<path stroke="#0000CF" d="M777 984h0"/>
<path stroke="#00008F" d="M886 845h0"/>
<path stroke="#0000DF" d="M793 931h0"/>
<path stroke="#00009F" d="M553 1113h0"/>
<path stroke="#0000AF" d="M806 1087h0"/>
<path stroke="#0030FF" d="M367 1315h0"/>
<path stroke="#0000CF" d="M690 1083h0"/>
<path stroke="#0000AF" d="M828 1027h0"/>
<path stroke="#0000FF" d="M597 1141h0"/>
<path stroke="#0000EF" d="M711 1069h0"/>
<path stroke="#0000DF" d="M675 1093h0"/>
<path stroke="#0000FF" d="M512 1277h0"/>
<path stroke="#0040FF" d="M331 1363h0"/>
<path stroke="#00008F" d="M831 1144h0"/>
<path stroke="#0000AF" d="M583 1023h0"/>
<path stroke="#00009F" d="M602 1123h0"/>
<path stroke="#0000EF" d="M509 1129h0M753 1018h0"/>
<path stroke="#00008F" d="M734 891h0"/>
<path stroke="#0000AF" d="M480 1305h0"/>
<path stroke="#0040FF" d="M349 1398h0"/>
<path stroke="#0000AF" d="M475 1291h0"/>
<path stroke="#0020FF" d="M521 1186h0"/>
<path stroke="#0000AF" d="M419 1275h0"/>
<path stroke="#00009F" d="M445 1389h0M725 1213h0"/>
<path stroke="#008FFF" d="M358 1399h0"/>
<path stroke="#00008F" d="M1068 901h0"/>
<path stroke="#0000BF" d="M384 1485h0"/>
<path stroke="#00008F" d="M1111 938h0"/>
<path stroke="#0000AF" d="M441 1235h0"/>
<path stroke="#00009F" d="M458 1074h0"/>
<path stroke="#0000AF" d="M630 1254h0"/>
<path stroke="#00008F" d="M1057 861h0M1002 862h0"/>
<path stroke="#0000AF" d="M641 1152h0"/>
<path stroke="#0000BF" d="M411 1142h0"/>
<path stroke="#00008F" d="M954 878h0"/>
<path stroke="#00009F" d="M537 1270h0M664 1281h0"/>
<path stroke="#0000DF" d="M360 1345h0"/>
<path stroke="#0000FF" d="M439 1204h0"/>
<path stroke="#0000BF" d="M567 1025h0"/>
<path stroke="#00008F" d="M873 1022h0M754 1166h0"/>
<path stroke="#0000AF" d="M474 1080h0"/>
<path stroke="#0030FF" d="M300 1429h0"/>
<path stroke="#0000FF" d="M628 1100h0"/>
<path stroke="#0060FF" d="M430 1285h0"/>
<path stroke="#00009F" d="M712 961h0"/>
<path stroke="#0000AF" d="M687 1222h0"/>
<path stroke="#00008F" d="M592 1302h0"/>
<path stroke="#0000BF" d="M885 989h0"/>
<path stroke="#00DFFF" d="M300 1451h0"/>
<path stroke="#00008F" d="M572 998h0"/>
<path stroke="#00009F" d="M665 898h0M647 1290h0M764 1126h0"/>
<path stroke="#0000FF" d="M851 965h0"/>
<path stroke="#0000BF" d="M737 1095h0M694 1191h0"/>
<path stroke="#0000FF" d="M490 1356h0"/>
<path stroke="#0000BF" d="M494 1384h0"/>
<path stroke="#00009F" d="M909 1006h0"/>
<path stroke="#0000AF" d="M414 1082h0"/>
<path stroke="#00008F" d="M1247 836h0"/>
<path stroke="#0000BF" d="M894 973h0"/>
<path stroke="#00009F" d="M984 882h0"/>
<path stroke="#00008F" d="M830 1003h0M691 1148h0"/>
<path stroke="#00009F" d="M791 915h0"/>
<path stroke="#00008F" d="M628 942h0M706 892h0"/>
<path stroke="#00009F" d="M854 955h0M556 1016h0"/>
<path stroke="#0000CF" d="M706 979h0"/>
<path stroke="#00008F" d="M1102 827h0"/>
<path stroke="#00009F" d="M827 1092h0"/>
<path stroke="#0000DF" d="M764 981h0M588 1239h0"/>
<path stroke="#0000BF" d="M396 1313h0"/>
<path stroke="#00009F" d="M1012 824h0"/>
<path stroke="#0000CF" d="M485 1181h0"/>
<path stroke="#00BFFF" d="M338 1468h0"/>
<path stroke="#0010FF" d="M505 1190h0"/>
<path stroke="#00008F" d="M981 869h0"/>
<path stroke="#0000BF" d="M714 1176h0"/>
<path stroke="#0070FF" d="M427 1271h0"/>
<path stroke="#0000AF" d="M448 1444h0"/>
<path stroke="#00008F" d="M722 1092h0"/>
<path stroke="#0000CF" d="M365 1478h0"/>
<path stroke="#0050FF" d="M438 1284h0"/>
<path stroke="#00009F" d="M1030 841h0"/>
<path stroke="#0000AF" d="M379 1406h0"/>
<path stroke="#0000EF" d="M519 1113h0"/>
<path stroke="#0000CF" d="M642 1178h0"/>
<path stroke="#0010FF" d="M649 1125h0"/>
<path stroke="#00009F" d="M592 1195h0"/>
<path stroke="#0000BF" d="M373 1421h0"/>
<path stroke="#0000AF" d="M366 1310h0M354 1389h0"/>
<path stroke="#00009F" d="M403 1180h0"/>
<path stroke="#0050FF" d="M430 1240h0"/>
<path stroke="#00008F" d="M975 967h0"/>
<path stroke="#0050FF" d="M365 1429h0"/>
<path stroke="#00008F" d="M1002 1035h0"/>
<path stroke="#0080FF" d="M322 1414h0"/>
<path stroke="#00009F" d="M686 1046h0"/>
<path stroke="#0000DF" d="M698 1019h0"/>
<path stroke="#00008F" d="M920 1092h0"/>
<path stroke="#0000DF" d="M698 1065h0M566 1116h0"/>
<path stroke="#00008F" d="M623 1286h0"/>
<path stroke="#0000FF" d="M526 1321h0"/>
<path stroke="#0000DF" d="M400 1285h0"/>
<path stroke="#0030FF" d="M419 1217h0"/>
<path stroke="#0000FF" d="M872 922h0"/>
<path stroke="#0000AF" d="M564 992h0"/>
<path stroke="#0000BF" d="M479 1125h0"/>
<path stroke="#0000DF" d="M591 1070h0"/>
<path stroke="#00008F" d="M439 1108h0"/>
<path stroke="#0070FF" d="M398 1291h0"/>
<path stroke="#00008F" d="M692 1152h0"/>
<path stroke="#00009F" d="M684 1149h0"/>
<path stroke="#0000BF" d="M905 875h0"/>
<path stroke="#0060FF" d="M353 1405h0"/>
<path stroke="#00008F" d="M536 1356h0M624 1256h0"/>
<path stroke="#0000CF" d="M891 948h0"/>
<path stroke="#0000FF" d="M622 1064h0"/>
<path stroke="#00008F" d="M854 1043h0"/>
<path stroke="#00009F" d="M828 856h0"/>
<path stroke="#0000DF" d="M451 1369h0"/>
<path stroke="#0000AF" d="M814 1048h0"/>
<path stroke="#00009F" d="M533 1174h0"/>
<path stroke="#0000CF" d="M662 1160h0"/>
<path stroke="#0000AF" d="M476 1099h0M451 1126h0"/>
<path stroke="#00008F" d="M677 927h0M608 1034h0"/>
<path stroke="#0020FF" d="M386 1326h0"/>
<path stroke="#0000CF" d="M431 1158h0"/>
<path stroke="#00008F" d="M1118 935h0"/>
<path stroke="#0000FF" d="M602 1192h0"/>
<path stroke="#00009F" d="M573 1107h0"/>
<path stroke="#0000CF" d="M706 1062h0"/>
<path stroke="#0000AF" d="M568 1011h0"/>
<path stroke="#00009F" d="M798 984h0"/>
<path stroke="#0030FF" d="M503 1173h0"/>
<path stroke="#0000AF" d="M863 805h0"/>
<path stroke="#00008F" d="M1057 805h0"/>
<path stroke="#0000BF" d="M801 984h0"/>
<path stroke="#0080FF" d="M353 1397h0"/>
<path stroke="#0000AF" d="M451 1105h0"/>
<path stroke="#0000EF" d="M682 1090h0"/>
<path stroke="#0000DF" d="M643 1213h0"/>
<path stroke="#0050FF" d="M568 1152h0"/>
<path stroke="#00008F" d="M804 801h0"/>
<path stroke="#0000FF" d="M692 1088h0"/>
<path stroke="#0050FF" d="M468 1271h0"/>
<path stroke="#0000DF" d="M633 1203h0"/>
<path stroke="#0020FF" d="M571 1160h0"/>
<path stroke="#00009F" d="M791 947h0"/>
<path stroke="#0000CF" d="M802 976h0M652 1216h0M374 1192h0"/>
<path stroke="#0000AF" d="M978 836h0"/>
<path stroke="#00008F" d="M464 1418h0"/>
<path stroke="#00009F" d="M648 933h0"/>
<path stroke="#0000AF" d="M614 1083h0"/>
<path stroke="#0000CF" d="M444 1141h0"/>
<path stroke="#00008F" d="M1039 891h0"/>
<path stroke="#0040FF" d="M564 1132h0"/>
<path stroke="#0010FF" d="M745 1049h0"/>
<path stroke="#00009F" d="M916 1007h0M862 888h0"/>
<path stroke="#00008F" d="M831 1141h0"/>
<path stroke="#0000EF" d="M506 1144h0"/>
<path stroke="#00008F" d="M835 1054h0"/>
<path stroke="#00CFFF" d="M333 1491h0"/>
<path stroke="#00008F" d="M1074 869h0"/>
<path stroke="#0000BF" d="M640 1211h0"/>
<path stroke="#00008F" d="M1014 895h0"/>
<path stroke="#0000FF" d="M525 1289h0"/>
<path stroke="#00008F" d="M1045 879h0M947 978h0"/>
<path stroke="#00009F" d="M947 917h0"/>
<path stroke="#0000CF" d="M460 1396h0"/>
<path stroke="#0000BF" d="M716 1116h0"/>
<path stroke="#0030FF" d="M442 1340h0"/>
<path stroke="#00009F" d="M563 991h0"/>
<path stroke="#00008F" d="M801 1171h0"/>
<path stroke="#00009F" d="M1061 800h0"/>
<path stroke="#0080FF" d="M432 1315h0"/>
<path stroke="#0010FF" d="M359 1344h0"/>
<path stroke="#0000CF" d="M827 974h0"/>
<path stroke="#0020FF" d="M500 1320h0"/>
<path stroke="#0000BF" d="M647 1233h0"/>
<path stroke="#00DFFF" d="M393 1274h0"/>
<path stroke="#0000DF" d="M477 1215h0"/>
<path stroke="#00009F" d="M1043 831h0"/>
<path stroke="#0000AF" d="M531 1132h0"/>
<path stroke="#0060FF" d="M348 1493h0"/>
<path stroke="#0000EF" d="M446 1222h0"/>
<path stroke="#00008F" d="M1066 858h0"/>
<path stroke="#0000AF" d="M675 1188h0"/>
<path stroke="#00008F" d="M473 1236h0"/>
<path stroke="#0040FF" d="M397 1411h0"/>
<path stroke="#0010FF" d="M366 1437h0"/>
<path stroke="#00009F" d="M651 984h0M414 1059h0"/>
<path stroke="#0000EF" d="M520 1331h0"/>
<path stroke="#00008F" d="M582 1280h0"/>
<path stroke="#0010FF" d="M414 1449h0"/>
<path stroke="#0000AF" d="M412 1051h0"/>
<path stroke="#0030FF" d="M451 1316h0"/>
<path stroke="#0000AF" d="M472 1297h0M650 1197h0"/>
<path stroke="#0000FF" d="M503 1186h0"/>
<path stroke="#00009F" d="M901 999h0M976 869h0"/>
<path stroke="#0010FF" d="M385 1343h0"/>
<path stroke="#0000CF" d="M509 1235h0M412 1180h0"/>
<path stroke="#0000BF" d="M715 1154h0"/>
<path stroke="#0000AF" d="M377 1457h0"/>
<path stroke="#0000CF" d="M538 1250h0"/>
<path stroke="#0000DF" d="M397 1111h0"/>
<path stroke="#0050FF" d="M833 953h0"/>
<path stroke="#00008F" d="M870 1127h0"/>
<path stroke="#0060FF" d="M397 1281h0"/>
<path stroke="#0000CF" d="M344 1315h0"/>
<path stroke="#0000BF" d="M924 862h0"/>
<path stroke="#00008F" d="M1132 842h0"/>
<path stroke="#00009F" d="M637 950h0"/>
<path stroke="#00008F" d="M1012 876h0"/>
<path stroke="#0000BF" d="M443 1098h0"/>
<path stroke="#0000EF" d="M623 1193h0"/>
<path stroke="#0000AF" d="M892 833h0"/>
<path stroke="#0060FF" d="M377 1406h0"/>
<path stroke="#0000EF" d="M734 1043h0"/>
<path stroke="#0030FF" d="M451 1317h0"/>
<path stroke="#0000AF" d="M465 1353h0"/>
<path stroke="#0020FF" d="M518 1150h0"/>
<path stroke="#0040FF" d="M382 1421h0"/>
<path stroke="#00008F" d="M711 1092h0M994 1039h0"/>
<path stroke="#0000AF" d="M566 1060h0"/>
<path stroke="#009FFF" d="M385 1303h0"/>
<path stroke="#00009F" d="M411 1405h0M819 1098h0"/>
<path stroke="#00008F" d="M701 904h0"/>
<path stroke="#00009F" d="M856 977h0M579 1200h0"/>
<path stroke="#0070FF" d="M334 1400h0"/>
<path stroke="#00008F" d="M842 802h0"/>
<path stroke="#0000DF" d="M658 1028h0"/>
<path stroke="#0000AF" d="M332 1413h0"/>
<path stroke="#0000EF" d="M554 1199h0"/>
<path stroke="#0000BF" d="M414 1426h0"/>
<path stroke="#00008F" d="M934 939h0M1033 990h0"/>
<path stroke="#0010FF" d="M344 1453h0"/>
<path stroke="#00008F" d="M878 1000h0"/>
<path stroke="#0000CF" d="M932 831h0"/>
<path stroke="#0000BF" d="M734 1152h0"/>
<path stroke="#00009F" d="M626 1296h0"/>
<path stroke="#0000BF" d="M949 872h0"/>
<path stroke="#00008F" d="M829 1093h0"/>
<path stroke="#0010FF" d="M335 1436h0"/>
<path stroke="#00009F" d="M934 934h0"/>
<path stroke="#008FFF" d="M331 1405h0"/>
<path stroke="#FFCF00" d="M307 1500h0"/>
<path stroke="#0070FF" d="M475 1335h0"/>
<path stroke="#0000AF" d="M817 1029h0"/>
<path stroke="#0030FF" d="M412 1431h0"/>
<path stroke="#008FFF" d="M446 1325h0"/>
<path stroke="#0000CF" d="M453 1168h0"/>
<path stroke="#0010FF" d="M669 1088h0M427 1347h0"/>
<path stroke="#0000EF" d="M401 1376h0"/>
<path stroke="#00008F" d="M1059 873h0"/>
<path stroke="#0000BF" d="M671 1009h0"/>
<path stroke="#00009F" d="M622 1132h0"/>
<path stroke="#0000AF" d="M540 1141h0M711 1226h0"/>
<path stroke="#00009F" d="M490 1246h0"/>
<path stroke="#0020FF" d="M678 1092h0"/>
<path stroke="#00008F" d="M435 1085h0"/>
<path stroke="#0030FF" d="M634 1072h0"/>
<path stroke="#0020FF" d="M403 1335h0"/>
<path stroke="#0000BF" d="M633 1017h0"/>
<path stroke="#0000EF" d="M518 1214h0"/>
<path stroke="#00009F" d="M479 1144h0"/>
<path stroke="#00008F" d="M798 1127h0"/>
<path stroke="#0000FF" d="M557 1239h0"/>
<path stroke="#0020FF" d="M379 1457h0"/>
<path stroke="#0000BF" d="M957 856h0"/>
<path stroke="#0000AF" d="M477 1311h0"/>
<path stroke="#00008F" d="M854 1133h0"/>
<path stroke="#00009F" d="M688 1043h0M675 1255h0"/>
<path stroke="#0000BF" d="M746 979h0M724 1109h0"/>
<path stroke="#00009F" d="M578 985h0"/>
<path stroke="#0000DF" d="M594 1079h0"/>
<path stroke="#00009F" d="M744 905h0"/>
<path stroke="#00008F" d="M954 967h0"/>
<path stroke="#00009F" d="M836 1021h0M849 1081h0M518 1142h0"/>
<path stroke="#0000AF" d="M407 1439h0"/>
<path stroke="#0050FF" d="M448 1368h0"/>
<path stroke="#0040FF" d="M468 1310h0"/>
<path stroke="#0010FF" d="M700 1036h0"/>
<path stroke="#00009F" d="M722 1183h0"/>
<path stroke="#00008F" d="M707 909h0"/>
<path stroke="#0010FF" d="M370 1383h0"/>
<path stroke="#0000AF" d="M979 832h0M838 1016h0M705 1201h0"/>
<path stroke="#0000EF" d="M360 1465h0"/>
<path stroke="#0030FF" d="M354 1421h0"/>
<path stroke="#0000AF" d="M641 1220h0"/>
<path stroke="#00008F" d="M744 1079h0"/>
<path stroke="#00009F" d="M730 905h0"/>
<path stroke="#00008F" d="M808 1103h0M856 898h0"/>
<path stroke="#00009F" d="M710 999h0"/>
<path stroke="#00008F" d="M968 904h0"/>
<path stroke="#0000FF" d="M554 1172h0"/>
<path stroke="#00009F" d="M724 1218h0"/>
<path stroke="#0030FF" d="M463 1281h0"/>
<path stroke="#0000AF" d="M541 1154h0"/>
<path stroke="#00008F" d="M961 930h0"/>
<path stroke="#0040FF" d="M526 1321h0"/>
<path stroke="#00008F" d="M712 895h0"/>
<path stroke="#0000AF" d="M854 955h0"/>
<path stroke="#0000BF" d="M895 930h0"/>
<path stroke="#00008F" d="M1056 960h0"/>
<path stroke="#0040FF" d="M365 1312h0"/>
<path stroke="#0000AF" d="M576 1292h0"/>
<path stroke="#0000EF" d="M578 1129h0"/>
<path stroke="#0060FF" d="M462 1320h0"/>
<path stroke="#0000FF" d="M372 1348h0"/>
<path stroke="#00008F" d="M406 1137h0"/>
<path stroke="#00009F" d="M628 1301h0"/>
<path stroke="#0000AF" d="M498 1177h0M668 1006h0"/>
<path stroke="#0000BF" d="M570 1244h0"/>
<path stroke="#00008F" d="M981 927h0"/>
<path stroke="#20FFDF" d="M318 1384h0"/>
<path stroke="#00008F" d="M1003 901h0M486 1106h0"/>
<path stroke="#0000BF" d="M353 1436h0"/>
<path stroke="#00009F" d="M518 1096h0"/>
<path stroke="#0000EF" d="M460 1397h0"/>
<path stroke="#00009F" d="M556 1063h0"/>
<path stroke="#0000AF" d="M562 996h0"/>
<path stroke="#00CFFF" d="M306 1441h0"/>
<path stroke="#0000CF" d="M794 947h0"/>
<path stroke="#00008F" d="M802 1102h0"/>
<path stroke="#0000DF" d="M538 1211h0"/>
<path stroke="#0000BF" d="M850 984h0"/>
<path stroke="#0000AF" d="M654 1188h0"/>
<path stroke="#00009F" d="M969 879h0"/>
<path stroke="#00008F" d="M602 1290h0M937 971h0"/>
<path stroke="#0000BF" d="M583 1266h0"/>
<path stroke="#0000AF" d="M918 955h0M628 1010h0"/>
<path stroke="#0000DF" d="M924 833h0"/>
<path stroke="#00009F" d="M1032 813h0"/>
<path stroke="#0000CF" d="M794 1008h0"/>
<path stroke="#00008F" d="M797 1025h0"/>
<path stroke="#0000AF" d="M898 809h0"/>
<path stroke="#0000FF" d="M749 1017h0"/>
<path stroke="#0000AF" d="M727 1198h0"/>
<path stroke="#0000BF" d="M725 1096h0"/>
<path stroke="#0000AF" d="M487 1179h0"/>
<path stroke="#00008F" d="M1187 825h0"/>
<path stroke="#0000FF" d="M426 1370h0"/>
<path stroke="#0000CF" d="M464 1390h0"/>
<path stroke="#00008F" d="M690 1162h0M922 903h0"/>
<path stroke="#0000CF" d="M664 1046h0M488 1204h0"/>
<path stroke="#0000DF" d="M625 1118h0"/>
<path stroke="#0000FF" d="M540 1182h0"/>
<path stroke="#50FFAF" d="M300 1498h0"/>
<path stroke="#00008F" d="M841 1179h0"/>
<path stroke="#00009F" d="M653 1186h0"/>
<path stroke="#0000AF" d="M567 1340h0"/>
<path stroke="#0050FF" d="M508 1186h0"/>
<path stroke="#00009F" d="M967 855h0"/>
<path stroke="#0000BF" d="M702 978h0"/>
<path stroke="#00008F" d="M788 1120h0M1114 822h0M917 805h0"/>
<path stroke="#0000AF" d="M915 964h0"/>
<path stroke="#0060FF" d="M387 1458h0"/>
<path stroke="#0000BF" d="M997 826h0"/>
<path stroke="#0010FF" d="M390 1384h0M626 1064h0"/>
<path stroke="#0000BF" d="M421 1132h0"/>
<path stroke="#00008F" d="M1211 835h0"/>
<path stroke="#00009F" d="M608 1054h0"/>
<path stroke="#0000DF" d="M551 1246h0"/>
<path stroke="#00009F" d="M678 1262h0"/>
<path stroke="#00008F" d="M537 1372h0M796 861h0"/>
<path stroke="#0000BF" d="M582 1278h0"/>
<path stroke="#00008F" d="M1062 815h0"/>
<path stroke="#0000EF" d="M384 1372h0"/>
<path stroke="#00008F" d="M798 813h0M920 1107h0M443 1166h0"/>
<path stroke="#00009F" d="M442 1385h0"/>
<path stroke="#00008F" d="M769 986h0"/>
<path stroke="#00009F" d="M676 1055h0"/>
<path stroke="#0000DF" d="M391 1376h0"/>
<path stroke="#00008F" d="M1095 805h0"/>
<path stroke="#00009F" d="M527 1060h0"/>
<path stroke="#00008F" d="M602 977h0"/>
<path stroke="#0010FF" d="M505 1143h0M523 1163h0M498 1228h0"/>
<path stroke="#0000DF" d="M685 1048h0"/>
<path stroke="#00008F" d="M734 955h0"/>
<path stroke="#0000AF" d="M764 1107h0M1034 803h0"/>
<path stroke="#0020FF" d="M395 1458h0"/>
<path stroke="#00008F" d="M1026 896h0"/>
<path stroke="#0000CF" d="M461 1139h0"/>
<path stroke="#0000AF" d="M469 1348h0"/>
<path stroke="#00008F" d="M1081 902h0"/>
<path stroke="#0000BF" d="M790 1014h0M682 1160h0"/>
<path stroke="#00BFFF" d="M344 1475h0"/>
<path stroke="#00008F" d="M491 1259h0"/>
<path stroke="#0000BF" d="M561 1323h0"/>
<path stroke="#0000FF" d="M812 973h0"/>
<path stroke="#0020FF" d="M622 1067h0"/>
<path stroke="#0000EF" d="M807 981h0"/>
<path stroke="#0010FF" d="M831 930h0"/>
<path stroke="#00008F" d="M779 907h0M984 996h0M989 999h0"/>
<path stroke="#0050FF" d="M373 1414h0"/>
<path stroke="#0000DF" d="M546 1287h0M461 1151h0"/>
<path stroke="#0000CF" d="M555 1251h0"/>
<path stroke="#00009F" d="M738 1113h0M823 885h0"/>
<path stroke="#00008F" d="M932 951h0"/>
<path stroke="#00AFFF" d="M410 1268h0"/>
<path stroke="#0000CF" d="M790 932h0"/>
<path stroke="#00009F" d="M889 1024h0M596 1142h0"/>
<path stroke="#0000AF" d="M435 1435h0"/>
<path stroke="#0000CF" d="M710 1015h0"/>
<path stroke="#0070FF" d="M376 1284h0"/>
<path stroke="#0000DF" d="M614 1113h0"/>
<path stroke="#00008F" d="M1043 962h0"/>
<path stroke="#00009F" d="M1026 876h0"/>
<path stroke="#0000DF" d="M385 1387h0"/>
<path stroke="#0020FF" d="M458 1312h0"/>
<path stroke="#0000EF" d="M648 1091h0"/>
<path stroke="#0000FF" d="M462 1244h0"/>
<path stroke="#00008F" d="M739 1116h0"/>
<path stroke="#0010FF" d="M346 1485h0"/>
<path stroke="#0000AF" d="M484 1098h0"/>
<path stroke="#0000BF" d="M658 1253h0"/>
<path stroke="#00009F" d="M746 1172h0"/>
<path stroke="#0010FF" d="M387 1232h0"/>
<path stroke="#0000AF" d="M820 1099h0"/>
<path stroke="#0000DF" d="M718 1044h0"/>
<path stroke="#0000FF" d="M396 1415h0"/>
<path stroke="#0020FF" d="M338 1328h0"/>
<path stroke="#0070FF" d="M322 1439h0"/>
<path stroke="#00008F" d="M955 899h0"/>
<path stroke="#0010FF" d="M354 1381h0"/>
<path stroke="#9FFF60" d="M312 1463h0"/>
<path stroke="#00008F" d="M779 1158h0"/>
<path stroke="#0000CF" d="M300 1423h0"/>
<path stroke="#0000AF" d="M650 1001h0"/>
<path stroke="#0000CF" d="M519 1272h0"/>
<path stroke="#0000AF" d="M744 890h0"/>
<path stroke="#0010FF" d="M450 1349h0"/>
<path stroke="#0000BF" d="M690 1193h0"/>
<path stroke="#00009F" d="M589 1191h0"/>
<path stroke="#0000CF" d="M777 1015h0"/>
<path stroke="#0050FF" d="M358 1344h0"/>
<path stroke="#0000DF" d="M479 1135h0"/>
<path stroke="#00009F" d="M403 1372h0M617 981h0"/>
<path stroke="#0000EF" d="M433 1211h0"/>
<path stroke="#00008F" d="M957 930h0M1117 897h0"/>
<path stroke="#00009F" d="M576 1132h0"/>
<path stroke="#0000BF" d="M402 1171h0"/>
<path stroke="#00008F" d="M725 1129h0"/>
<path stroke="#0000EF" d="M645 1214h0"/>
<path stroke="#0000FF" d="M351 1487h0"/>
<path stroke="#0040FF" d="M384 1450h0"/>
<path stroke="#0000CF" d="M814 992h0"/>
<path stroke="#00009F" d="M630 1213h0"/>
<path stroke="#00008F" d="M866 1011h0"/>
<path stroke="#00009F" d="M967 860h0"/>
<path stroke="#00008F" d="M571 1050h0M670 898h0"/>
<path stroke="#00009F" d="M657 952h0"/>
<path stroke="#0000AF" d="M801 1045h0"/>
<path stroke="#0000CF" d="M541 1095h0"/>
<path stroke="#0000BF" d="M651 1016h0"/>
<path stroke="#0000FF" d="M431 1232h0"/>
<path stroke="#0000AF" d="M404 1231h0"/>
<path stroke="#0000DF" d="M458 1264h0M614 1234h0"/>
<path stroke="#0000FF" d="M592 1140h0"/>
<path stroke="#0000AF" d="M750 1075h0"/>
<path stroke="#0000BF" d="M588 1262h0"/>
<path stroke="#00008F" d="M555 1102h0"/>
<path stroke="#0000BF" d="M375 1418h0M436 1136h0"/>
<path stroke="#0010FF" d="M468 1203h0"/>
<path stroke="#0000BF" d="M471 1130h0"/>
<path stroke="#00008F" d="M904 988h0"/>
<path stroke="#0010FF" d="M454 1275h0"/>
<path stroke="#00009F" d="M571 1243h0"/>
<path stroke="#0010FF" d="M837 952h0M336 1446h0"/>
<path stroke="#0000CF" d="M640 1116h0"/>
<path stroke="#0000BF" d="M700 1184h0"/>
<path stroke="#00008F" d="M672 886h0M633 1196h0"/>
<path stroke="#10FFEF" d="M314 1371h0"/>
<path stroke="#0000DF" d="M499 1219h0"/>
<path stroke="#0000BF" d="M720 1160h0"/>
<path stroke="#00008F" d="M872 1027h0"/>
<path stroke="#00009F" d="M627 1310h0"/>
<path stroke="#00008F" d="M1027 910h0"/>
<path stroke="#0000BF" d="M384 1401h0"/>
<path stroke="#00008F" d="M1132 898h0M782 1149h0"/>
<path stroke="#0010FF" d="M473 1237h0"/>
<path stroke="#00009F" d="M785 842h0"/>
<path stroke="#0000DF" d="M539 1280h0"/>
<path stroke="#0040FF" d="M417 1258h0"/>
<path stroke="#0020FF" d="M511 1159h0"/>
<path stroke="#00008F" d="M928 894h0M903 870h0M1045 951h0"/>
<path stroke="#0050FF" d="M382 1251h0"/>
<path stroke="#0000CF" d="M712 1123h0"/>
<path stroke="#0000AF" d="M768 877h0"/>
<path stroke="#0000CF" d="M572 1050h0"/>
<path stroke="#0060FF" d="M454 1310h0"/>
<path stroke="#0000AF" d="M613 1263h0"/>
<path stroke="#0000BF" d="M437 1335h0"/>
<path stroke="#00008F" d="M997 1005h0"/>
<path stroke="#0000EF" d="M551 1322h0"/>
<path stroke="#0000AF" d="M716 1216h0"/>
<path stroke="#00008F" d="M865 1120h0"/>
<path stroke="#0000AF" d="M457 1083h0M574 1194h0M406 1465h0"/>
<path stroke="#00008F" d="M771 1204h0"/>
<path stroke="#00009F" d="M997 822h0"/>
<path stroke="#00008F" d="M661 973h0M1004 922h0"/>
<path stroke="#008FFF" d="M382 1300h0"/>
<path stroke="#00008F" d="M1028 911h0"/>
<path stroke="#0000FF" d="M526 1323h0"/>
<path stroke="#00009F" d="M465 1065h0"/>
<path stroke="#0000DF" d="M503 1217h0"/>
<path stroke="#0000AF" d="M639 1023h0"/>
<path stroke="#00009F" d="M585 986h0"/>
<path stroke="#00008F" d="M871 1082h0"/>
<path stroke="#0010FF" d="M452 1307h0"/>
<path stroke="#00009F" d="M472 1316h0"/>
<path stroke="#00008F" d="M692 1215h0"/>
<path stroke="#0000CF" d="M882 935h0"/>
<path stroke="#00008F" d="M636 1212h0M1059 825h0"/>
<path stroke="#0000BF" d="M775 972h0"/>
<path stroke="#00009F" d="M841 925h0M788 1098h0"/>
<path stroke="#0000FF" d="M420 1403h0"/>
<path stroke="#00008F" d="M1120 865h0M931 1025h0"/>
<path stroke="#0000EF" d="M450 1340h0"/>
<path stroke="#0000DF" d="M561 1268h0M395 1208h0"/>
<path stroke="#00008F" d="M527 1079h0"/>
<path stroke="#00009F" d="M628 958h0"/>
<path stroke="#0000BF" d="M735 1078h0"/>
<path stroke="#00008F" d="M783 985h0"/>
<path stroke="#0000FF" d="M832 924h0"/>
<path stroke="#0000CF" d="M567 1104h0"/>
<path stroke="#0010FF" d="M580 1124h0"/>
<path stroke="#0000AF" d="M452 1283h0"/>
<path stroke="#0000EF" d="M472 1258h0"/>
<path stroke="#0000CF" d="M413 1425h0M579 1069h0"/>
<path stroke="#00BFFF" d="M311 1449h0"/>
<path stroke="#0010FF" d="M491 1261h0"/>
<path stroke="#00008F" d="M674 924h0M698 1201h0"/>
<path stroke="#0000DF" d="M601 1229h0"/>
<path stroke="#0000AF" d="M671 985h0"/>
<path stroke="#00009F" d="M726 916h0"/>
<path stroke="#0000CF" d="M876 975h0"/>
<path stroke="#0000DF" d="M555 1255h0"/>
<path stroke="#00008F" d="M969 848h0"/>
<path stroke="#0000DF" d="M650 1205h0"/>
<path stroke="#0000AF" d="M893 954h0M485 1331h0"/>
<path stroke="#0000BF" d="M459 1327h0"/>
<path stroke="#0000AF" d="M915 808h0"/>
<path stroke="#00008F" d="M1222 841h0"/>
<path stroke="#0000BF" d="M444 1312h0"/>
<path stroke="#0000DF" d="M627 1021h0"/>
<path stroke="#0000BF" d="M572 1275h0"/>
<path stroke="#00009F" d="M396 1495h0"/>
<path stroke="#0000CF" d="M627 1141h0"/>
<path stroke="#0000AF" d="M920 916h0M690 955h0M455 1224h0"/>
<path stroke="#0000DF" d="M716 1005h0"/>
<path stroke="#0000CF" d="M422 1425h0"/>
<path stroke="#00008F" d="M669 906h0"/>
<path stroke="#0000AF" d="M311 1409h0"/>
<path stroke="#00008F" d="M669 1185h0"/>
<path stroke="#0000EF" d="M731 992h0"/>
<path stroke="#00008F" d="M862 902h0M557 1242h0"/>
<path stroke="#0000AF" d="M386 1340h0M470 1209h0"/>
<path stroke="#00008F" d="M684 1253h0"/>
<path stroke="#00009F" d="M671 1173h0"/>
<path stroke="#0000BF" d="M777 894h0"/>
<path stroke="#00009F" d="M549 1135h0"/>
<path stroke="#0070FF" d="M423 1312h0"/>
<path stroke="#00EFFF" d="M337 1465h0"/>
<path stroke="#0000EF" d="M869 906h0"/>
<path stroke="#0050FF" d="M482 1297h0"/>
<path stroke="#00009F" d="M444 1191h0"/>
<path stroke="#0070FF" d="M370 1441h0"/>
<path stroke="#00008F" d="M1034 869h0"/>
<path stroke="#0040FF" d="M400 1285h0"/>
<path stroke="#0000DF" d="M410 1207h0"/>
<path stroke="#0000FF" d="M503 1120h0"/>
<path stroke="#0000EF" d="M557 1172h0"/>
<path stroke="#0000BF" d="M656 1160h0"/>
<path stroke="#0000CF" d="M652 1199h0"/>
<path stroke="#00008F" d="M814 1158h0"/>
<path stroke="#0080FF" d="M547 1144h0"/>
<path stroke="#0010FF" d="M385 1422h0M398 1452h0"/>
<path stroke="#0000AF" d="M349 1304h0"/>
<path stroke="#0000FF" d="M434 1371h0"/>
<path stroke="#00009F" d="M591 1096h0"/>
<path stroke="#0000CF" d="M510 1113h0M482 1394h0"/>
<path stroke="#00009F" d="M816 1089h0"/>
<path stroke="#0000CF" d="M574 1278h0"/>
<path stroke="#00009F" d="M852 1030h0M878 1021h0"/>
<path stroke="#0000EF" d="M516 1355h0"/>
<path stroke="#0000AF" d="M477 1328h0"/>
<path stroke="#00008F" d="M602 970h0"/>
<path stroke="#0000AF" d="M604 1314h0"/>
<path stroke="#0000EF" d="M826 936h0"/>
<path stroke="#0000AF" d="M527 1366h0"/>
<path stroke="#00008F" d="M1111 835h0M1098 821h0"/>
<path stroke="#00009F" d="M553 1218h0"/>
<path stroke="#0000FF" d="M590 1221h0"/>
<path stroke="#0000CF" d="M547 1242h0"/>
<path stroke="#0050FF" d="M483 1333h0"/>
<path stroke="#0000EF" d="M620 1164h0"/>
<path stroke="#0000CF" d="M334 1409h0"/>
<path stroke="#0010FF" d="M481 1245h0"/>
<path stroke="#0000FF" d="M474 1275h0"/>
<path stroke="#00009F" d="M730 948h0"/>
<path stroke="#0000DF" d="M576 1231h0"/>
<path stroke="#FF5000" d="M316 1478h0"/>
<path stroke="#0010FF" d="M389 1457h0"/>
<path stroke="#00009F" d="M741 1130h0"/>
<path stroke="#0000DF" d="M801 953h0"/>
<path stroke="#00008F" d="M1031 869h0"/>
<path stroke="#0000EF" d="M351 1488h0"/>
<path stroke="#0000BF" d="M519 1377h0"/>
<path stroke="#00008F" d="M689 931h0"/>
<path stroke="#0000DF" d="M489 1305h0"/>
<path stroke="#00008F" d="M724 1137h0"/>
<path stroke="#0000DF" d="M511 1268h0"/>
<path stroke="#0030FF" d="M351 1443h0"/>
<path stroke="#00009F" d="M648 1041h0M594 1135h0"/>
<path stroke="#0000BF" d="M602 1037h0"/>
<path stroke="#0000AF" d="M392 1445h0"/>
<path stroke="#00008F" d="M940 895h0"/>
<path stroke="#0000EF" d="M832 904h0"/>
<path stroke="#0000AF" d="M455 1308h0"/>
<path stroke="#0000BF" d="M781 1092h0"/>
<path stroke="#00009F" d="M553 1290h0M680 1098h0"/>
<path stroke="#0000AF" d="M693 1220h0M897 902h0"/>
<path stroke="#0000CF" d="M706 1073h0"/>
<path stroke="#0060FF" d="M365 1438h0"/>
<path stroke="#0000AF" d="M563 1128h0"/>
<path stroke="#0040FF" d="M648 1117h0M390 1446h0"/>
<path stroke="#0000BF" d="M565 1064h0"/>
<path stroke="#00009F" d="M638 956h0"/>
<path stroke="#0000DF" d="M678 1104h0"/>
<path stroke="#00008F" d="M730 1224h0"/>
<path stroke="#00009F" d="M393 1375h0"/>
<path stroke="#0000AF" d="M651 1267h0"/>
<path stroke="#0000DF" d="M659 1146h0"/>
<path stroke="#00009F" d="M826 831h0"/>
<path stroke="#00008F" d="M551 1268h0M498 1086h0"/>
<path stroke="#0000FF" d="M473 1205h0"/>
<path stroke="#00008F" d="M494 1077h0"/>
<path stroke="#0010FF" d="M390 1241h0"/>
<path stroke="#00008F" d="M1074 870h0M894 1024h0"/>
<path stroke="#0020FF" d="M484 1211h0"/>
<path stroke="#0000EF" d="M350 1462h0"/>
<path stroke="#0010FF" d="M820 952h0"/>
<path stroke="#00008F" d="M751 1195h0"/>
<path stroke="#0000BF" d="M507 1243h0"/>
<path stroke="#0000EF" d="M530 1185h0"/>
<path stroke="#0000AF" d="M621 1011h0"/>
<path stroke="#0000DF" d="M473 1384h0"/>
<path stroke="#0000AF" d="M741 968h0"/>
<path stroke="#00008F" d="M966 923h0"/>
<path stroke="#00009F" d="M758 1155h0"/>
<path stroke="#0000AF" d="M509 1338h0"/>
<path stroke="#00009F" d="M660 965h0"/>
<path stroke="#0000BF" d="M332 1424h0M690 1152h0"/>
<path stroke="#00008F" d="M818 1124h0"/>
<path stroke="#0000AF" d="M952 868h0"/>
<path stroke="#0000EF" d="M634 1055h0"/>
<path stroke="#0020FF" d="M507 1309h0"/>
<path stroke="#00008F" d="M1093 934h0"/>
<path stroke="#00009F" d="M810 1033h0M747 900h0"/>
<path stroke="#0000EF" d="M567 1233h0"/>
<path stroke="#0000CF" d="M743 1080h0"/>
<path stroke="#00008F" d="M892 1071h0"/>
<path stroke="#00009F" d="M731 1124h0"/>
<path stroke="#00008F" d="M739 1129h0M968 968h0"/>
<path stroke="#0030FF" d="M466 1282h0"/>
<path stroke="#00EFFF" d="M321 1454h0"/>
<path stroke="#0000EF" d="M373 1242h0"/>
<path stroke="#0000AF" d="M958 878h0M776 1081h0"/>
<path stroke="#00008F" d="M882 854h0"/>
<path stroke="#0030FF" d="M442 1341h0"/>
<path stroke="#0000CF" d="M881 866h0"/>
<path stroke="#00009F" d="M666 1078h0"/>
<path stroke="#0020FF" d="M444 1348h0"/>
<path stroke="#00009F" d="M657 1184h0"/>
<path stroke="#0010FF" d="M813 942h0"/>
<path stroke="#00009F" d="M550 1333h0"/>
<path stroke="#0000FF" d="M344 1359h0"/>
<path stroke="#00008F" d="M790 1130h0"/>
<path stroke="#00009F" d="M456 1192h0"/>
<path stroke="#00DFFF" d="M328 1452h0"/>
<path stroke="#0000FF" d="M847 936h0"/>
<path stroke="#00009F" d="M475 1078h0"/>
<path stroke="#0000DF" d="M637 1168h0M584 1097h0M654 1033h0"/>
<path stroke="#00009F" d="M984 895h0"/>
<path stroke="#0000BF" d="M582 1064h0"/>
<path stroke="#0000FF" d="M477 1220h0"/>
<path stroke="#00EFFF" d="M382 1289h0"/>
<path stroke="#00008F" d="M708 1222h0"/>
<path stroke="#0070FF" d="M425 1299h0"/>
<path stroke="#00009F" d="M586 1031h0"/>
<path stroke="#00008F" d="M1045 873h0"/>
<path stroke="#0030FF" d="M345 1441h0"/>
<path stroke="#0000CF" d="M918 833h0"/>
<path stroke="#0000DF" d="M440 1320h0"/>
<path stroke="#0000BF" d="M726 988h0"/>
<path stroke="#00009F" d="M429 1222h0"/>
<path stroke="#0000AF" d="M845 868h0"/>
<path stroke="#00009F" d="M445 1111h0"/>
<path stroke="#0030FF" d="M671 1092h0"/>
<path stroke="#00008F" d="M805 831h0"/>
<path stroke="#0000EF" d="M619 1138h0"/>
<path stroke="#00008F" d="M1094 920h0"/>
<path stroke="#0000AF" d="M681 1178h0"/>
<path stroke="#0000BF" d="M985 823h0"/>
<path stroke="#0000CF" d="M526 1213h0"/>
<path stroke="#00008F" d="M789 1137h0"/>
<path stroke="#00009F" d="M947 905h0"/>
<path stroke="#00008F" d="M1050 867h0M749 967h0M712 1189h0"/>
<path stroke="#0030FF" d="M470 1323h0"/>
<path stroke="#0000AF" d="M587 1119h0"/>
<path stroke="#0000BF" d="M810 897h0M443 1341h0"/>
<path stroke="#0000DF" d="M626 1210h0"/>
<path stroke="#00009F" d="M659 951h0"/>
<path stroke="#0010FF" d="M483 1303h0"/>
<path stroke="#0000BF" d="M666 1195h0"/>
<path stroke="#00009F" d="M564 1161h0"/>
<path stroke="#0000EF" d="M618 1209h0"/>
<path stroke="#00009F" d="M599 1343h0"/>
<path stroke="#FF7000" d="M324 1507h0"/>
<path stroke="#00008F" d="M761 850h0"/>
<path stroke="#00009F" d="M503 1374h0"/>
<path stroke="#0000AF" d="M437 1328h0"/>
<path stroke="#0000BF" d="M669 1187h0"/>
<path stroke="#0000AF" d="M900 916h0M388 1183h0"/>
<path stroke="#0000CF" d="M701 1093h0"/>
<path stroke="#00009F" d="M496 1262h0"/>
<path stroke="#0040FF" d="M406 1300h0"/>
<path stroke="#00009F" d="M585 1112h0"/>
<path stroke="#0000BF" d="M763 980h0"/>
<path stroke="#00008F" d="M1045 838h0"/>
<path stroke="#00009F" d="M850 845h0"/>
<path stroke="#0050FF" d="M473 1341h0"/>
<path stroke="#00009F" d="M830 901h0"/>
<path stroke="#00008F" d="M912 940h0"/>
<path stroke="#0000BF" d="M697 1136h0"/>
<path stroke="#0060FF" d="M432 1290h0"/>
<path stroke="#00008F" d="M1079 841h0M1086 881h0"/>
<path stroke="#00009F" d="M984 886h0"/>
<path stroke="#00008F" d="M1005 980h0M965 916h0"/>
<path stroke="#00009F" d="M841 853h0"/>
<path stroke="#00008F" d="M432 1414h0"/>
<path stroke="#0000EF" d="M582 1171h0"/>
<path stroke="#0000AF" d="M469 1123h0M468 1359h0"/>
<path stroke="#0000BF" d="M676 1021h0"/>
<path stroke="#0000AF" d="M659 1109h0"/>
<path stroke="#00008F" d="M810 1162h0"/>
<path stroke="#0000BF" d="M666 1170h0"/>
<path stroke="#0000DF" d="M678 1040h0"/>
<path stroke="#0000CF" d="M582 1274h0"/>
<path stroke="#0000AF" d="M736 1098h0"/>
<path stroke="#0000BF" d="M426 1063h0"/>
<path stroke="#00008F" d="M1182 804h0M909 916h0"/>
<path stroke="#00009F" d="M830 1016h0"/>
<path stroke="#0000BF" d="M882 902h0"/>
<path stroke="#0000DF" d="M972 823h0"/>
<path stroke="#0050FF" d="M565 1167h0"/>
<path stroke="#0060FF" d="M483 1328h0"/>
<path stroke="#00008F" d="M1025 897h0"/>
<path stroke="#0050FF" d="M457 1348h0"/>
<path stroke="#0000DF" d="M505 1230h0"/>
<path stroke="#0000EF" d="M514 1298h0"/>
<path stroke="#00008F" d="M1061 836h0"/>
<path stroke="#0000FF" d="M857 932h0"/>
<path stroke="#0000BF" d="M715 1114h0"/>
<path stroke="#00008F" d="M1003 975h0"/>
<path stroke="#0000AF" d="M904 821h0"/>
<path stroke="#0030FF" d="M431 1330h0"/>
<path stroke="#0000BF" d="M422 1248h0"/>
<path stroke="#00008F" d="M533 1248h0M867 1064h0"/>
<path stroke="#00009F" d="M653 1055h0"/>
<path stroke="#0000AF" d="M878 992h0"/>
<path stroke="#0000CF" d="M547 1203h0"/>
<path stroke="#00009F" d="M920 961h0M374 1337h0"/>
<path stroke="#BFFF40" d="M324 1459h0"/>
<path stroke="#0000CF" d="M538 1094h0"/>
<path stroke="#00008F" d="M855 1096h0"/>
<path stroke="#00009F" d="M632 952h0"/>
<path stroke="#0010FF" d="M436 1229h0"/>
<path stroke="#0000AF" d="M744 1095h0"/>
<path stroke="#0070FF" d="M343 1403h0"/>
<path stroke="#0040FF" d="M465 1320h0"/>
<path stroke="#00008F" d="M993 922h0"/>
<path stroke="#0000FF" d="M527 1187h0"/>
<path stroke="#0000AF" d="M484 1097h0"/>
<path stroke="#0000CF" d="M763 1051h0"/>
<path stroke="#00009F" d="M513 1219h0"/>
<path stroke="#009FFF" d="M383 1253h0"/>
<path stroke="#0030FF" d="M338 1405h0"/>
<path stroke="#0000FF" d="M406 1470h0"/>
<path stroke="#0000BF" d="M576 1239h0"/>
<path stroke="#00008F" d="M843 1133h0M805 1162h0M1028 929h0"/>
<path stroke="#60FF9F" d="M308 1388h0"/>
<path stroke="#00008F" d="M1151 853h0"/>
<path stroke="#0000CF" d="M710 1124h0"/>
<path stroke="#0010FF" d="M348 1306h0"/>
<path stroke="#00008F" d="M1116 877h0M696 1149h0"/>
<path stroke="#0000FF" d="M434 1197h0"/>
<path stroke="#00008F" d="M844 1126h0"/>
<path stroke="#0000EF" d="M656 1117h0"/>
<path stroke="#00008F" d="M860 1054h0"/>
<path stroke="#0000AF" d="M879 832h0"/>
<path stroke="#0000EF" d="M638 1050h0"/>
<path stroke="#0000BF" d="M806 1010h0"/>
<path stroke="#FF6000" d="M309 1471h0"/>
<path stroke="#0000AF" d="M495 1099h0"/>
<path stroke="#00008F" d="M786 1151h0"/>
<path stroke="#0000CF" d="M641 1026h0M531 1244h0"/>
<path stroke="#0000AF" d="M776 1086h0"/>
<path stroke="#AFFF50" d="M318 1474h0"/>
<path stroke="#0000EF" d="M484 1351h0"/>
<path stroke="#00009F" d="M513 1197h0"/>
<path stroke="#00008F" d="M444 1100h0"/>
<path stroke="#0040FF" d="M355 1451h0"/>
<path stroke="#00008F" d="M994 878h0"/>
<path stroke="#0000CF" d="M637 1043h0"/>
<path stroke="#0020FF" d="M350 1464h0"/>
<path stroke="#00008F" d="M939 868h0"/>
<path stroke="#0000AF" d="M854 841h0"/>
<path stroke="#00008F" d="M1145 843h0"/>
<path stroke="#0000BF" d="M404 1143h0"/>
<path stroke="#0000FF" d="M348 1453h0"/>
<path stroke="#00009F" d="M998 906h0"/>
<path stroke="#0020FF" d="M388 1450h0"/>
<path stroke="#0000CF" d="M355 1483h0"/>
<path stroke="#00009F" d="M1036 835h0"/>
<path stroke="#0000DF" d="M628 1142h0"/>
<path stroke="#00008F" d="M782 870h0M548 1276h0"/>
<path stroke="#0020FF" d="M442 1347h0"/>
<path stroke="#00009F" d="M414 1397h0"/>
<path stroke="#0000EF" d="M435 1260h0"/>
<path stroke="#00008F" d="M1003 1019h0"/>
<path stroke="#00009F" d="M933 944h0"/>
<path stroke="#0000BF" d="M475 1330h0"/>
<path stroke="#0000CF" d="M693 1015h0"/>
<path stroke="#0060FF" d="M396 1274h0"/>
<path stroke="#0000EF" d="M574 1200h0"/>
<path stroke="#0000CF" d="M571 1062h0"/>
<path stroke="#00009F" d="M462 1277h0"/>
<path stroke="#00008F" d="M954 848h0"/>
<path stroke="#00009F" d="M793 988h0"/>
<path stroke="#0000BF" d="M969 822h0M580 1062h0"/>
<path stroke="#0000EF" d="M481 1274h0"/>
<path stroke="#00008F" d="M384 1175h0"/>
<path stroke="#0000BF" d="M558 1322h0"/>
<path stroke="#0000FF" d="M373 1465h0"/>
<path stroke="#FF8000" d="M314 1498h0"/>
<path stroke="#0010FF" d="M636 1092h0"/>
<path stroke="#00009F" d="M717 1151h0"/>
<path stroke="#0070FF" d="M391 1269h0"/>
<path stroke="#00008F" d="M602 1342h0M878 1067h0"/>
<path stroke="#0000EF" d="M821 918h0"/>
<path stroke="#0030FF" d="M428 1260h0"/>
<path stroke="#0000CF" d="M417 1192h0"/>
<path stroke="#00009F" d="M1055 832h0"/>
<path stroke="#00008F" d="M1051 865h0"/>
<path stroke="#00009F" d="M974 899h0"/>
<path stroke="#0000AF" d="M513 1303h0"/>
<path stroke="#00008F" d="M885 969h0"/>
<path stroke="#00009F" d="M1006 834h0"/>
<path stroke="#0020FF" d="M811 939h0"/>
<path stroke="#0000CF" d="M787 988h0"/>
<path stroke="#0010FF" d="M449 1365h0"/>
<path stroke="#0000BF" d="M801 1026h0"/>
<path stroke="#00009F" d="M402 1177h0"/>
<path stroke="#0070FF" d="M344 1476h0"/>
<path stroke="#00009F" d="M512 1059h0"/>
<path stroke="#0000CF" d="M738 973h0"/>
<path stroke="#0000DF" d="M692 1122h0"/>
<path stroke="#00008F" d="M803 1181h0"/>
<path stroke="#00009F" d="M618 1197h0"/>
<path stroke="#0000AF" d="M536 1070h0"/>
<path stroke="#00009F" d="M636 1119h0"/>
<path stroke="#0000EF" d="M593 1156h0"/>
<path stroke="#00008F" d="M770 1090h0M935 896h0"/>
<path stroke="#0000DF" d="M561 1209h0"/>
<path stroke="#00009F" d="M388 1371h0"/>
<path stroke="#0000BF" d="M378 1315h0"/>
<path stroke="#0000AF" d="M877 824h0"/>
<path stroke="#0000DF" d="M561 1195h0"/>
<path stroke="#00009F" d="M589 1225h0M692 1064h0"/>
<path stroke="#0000BF" d="M688 983h0"/>
<path stroke="#00009F" d="M1023 855h0"/>
<path stroke="#0000EF" d="M853 940h0"/>
<path stroke="#0000FF" d="M618 1105h0"/>
<path stroke="#0010FF" d="M464 1194h0"/>
<path stroke="#00009F" d="M638 1213h0"/>
<path stroke="#0000BF" d="M882 893h0"/>
<path stroke="#0000DF" d="M362 1458h0"/>
<path stroke="#00009F" d="M966 923h0"/>
<path stroke="#00008F" d="M1018 1013h0"/>
<path stroke="#00009F" d="M613 999h0"/>
<path stroke="#00008F" d="M836 1139h0"/>
<path stroke="#0000AF" d="M731 1142h0"/>
<path stroke="#00008F" d="M552 1328h0M562 1064h0"/>
<path stroke="#00009F" d="M606 1246h0"/>
<path stroke="#0000DF" d="M623 1037h0"/>
<path stroke="#00009F" d="M628 1163h0"/>
<path stroke="#0000BF" d="M729 1096h0"/>
<path stroke="#00009F" d="M667 930h0"/>
<path stroke="#0010FF" d="M575 1192h0"/>
<path stroke="#00009F" d="M452 1079h0M1049 815h0"/>
<path stroke="#0060FF" d="M348 1393h0"/>
<path stroke="#00008F" d="M1156 890h0"/>
<path stroke="#0000AF" d="M681 1088h0"/>
<path stroke="#00009F" d="M661 940h0"/>
<path stroke="#00008F" d="M1118 818h0M948 1017h0"/>
<path stroke="#0000EF" d="M588 1182h0"/>
<path stroke="#00009F" d="M423 1451h0"/>
<path stroke="#0000DF" d="M698 1021h0"/>
<path stroke="#00009F" d="M736 1112h0"/>
<path stroke="#0000CF" d="M552 1211h0"/>
<path stroke="#00008F" d="M699 1245h0"/>
<path stroke="#0000FF" d="M400 1446h0"/>
<path stroke="#00008F" d="M730 1161h0"/>
<path stroke="#0000BF" d="M871 899h0"/>
<path stroke="#00008F" d="M617 958h0M871 1046h0"/>
<path stroke="#0000FF" d="M474 1277h0"/>
<path stroke="#0000AF" d="M637 1110h0"/>
<path stroke="#0000CF" d="M428 1126h0"/>
<path stroke="#0000BF" d="M715 1097h0"/>
<path stroke="#0000AF" d="M549 1357h0"/>
<path stroke="#00009F" d="M772 1036h0"/>
<path stroke="#0000AF" d="M997 848h0"/>
<path stroke="#00008F" d="M1110 811h0"/>
<path stroke="#0000CF" d="M459 1420h0"/>
<path stroke="#00009F" d="M437 1183h0"/>
<path stroke="#0020FF" d="M339 1348h0"/>
<path stroke="#00009F" d="M1021 817h0"/>
<path stroke="#0000EF" d="M633 1146h0"/>
<path stroke="#0000FF" d="M622 1119h0"/>
<path stroke="#0000BF" d="M560 1032h0M521 1094h0"/>
<path stroke="#00009F" d="M460 1283h0"/>
<path stroke="#0000BF" d="M599 1279h0"/>
<path stroke="#0000CF" d="M467 1396h0"/>
<path stroke="#00009F" d="M403 1359h0"/>
<path stroke="#0000DF" d="M325 1388h0"/>
<path stroke="#00009F" d="M920 973h0"/>
<path stroke="#0000CF" d="M446 1417h0"/>
<path stroke="#00008F" d="M1018 1033h0M635 1301h0"/>
<path stroke="#AFFF50" d="M335 1495h0"/>
<path stroke="#0000BF" d="M597 1265h0"/>
<path stroke="#0000EF" d="M829 946h0"/>
<path stroke="#0010FF" d="M439 1376h0"/>
<path stroke="#0000EF" d="M500 1221h0"/>
<path stroke="#00009F" d="M456 1204h0"/>
<path stroke="#0000EF" d="M872 941h0"/>
<path stroke="#0000AF" d="M891 960h0"/>
<path stroke="#00009F" d="M709 1232h0M987 876h0M763 1118h0"/>
<path stroke="#00008F" d="M1012 897h0"/>
<path stroke="#00009F" d="M821 816h0"/>
<path stroke="#0020FF" d="M391 1244h0"/>
<path stroke="#0000DF" d="M601 1089h0"/>
<path stroke="#0060FF" d="M337 1430h0"/>
<path stroke="#0000CF" d="M787 892h0"/>
<path stroke="#FF9F00" d="M313 1500h0"/>
<path stroke="#00008F" d="M830 888h0"/>
<path stroke="#0000FF" d="M569 1170h0"/>
<path stroke="#0000AF" d="M637 1120h0"/>
<path stroke="#0000BF" d="M703 1009h0"/>
<path stroke="#0000AF" d="M396 1373h0"/>
<path stroke="#0020FF" d="M410 1379h0"/>
<path stroke="#0000EF" d="M528 1112h0"/>
<path stroke="#00009F" d="M952 948h0"/>
<path stroke="#0000CF" d="M782 929h0"/>
<path stroke="#0040FF" d="M368 1381h0"/>
<path stroke="#0000BF" d="M660 1249h0"/>
<path stroke="#0000EF" d="M409 1235h0"/>
<path stroke="#0000FF" d="M600 1073h0"/>
<path stroke="#0000AF" d="M920 912h0"/>
<path stroke="#0010FF" d="M562 1125h0"/>
<path stroke="#00008F" d="M395 1110h0"/>
<path stroke="#0020FF" d="M491 1311h0"/>
<path stroke="#00008F" d="M1137 815h0"/>
<path stroke="#0000DF" d="M902 843h0"/>
<path stroke="#00009F" d="M755 1133h0"/>
<path stroke="#0030FF" d="M428 1330h0"/>
<path stroke="#00009F" d="M627 983h0"/>
<path stroke="#00008F" d="M1100 904h0"/>
<path stroke="#0000BF" d="M431 1082h0"/>
<path stroke="#0000CF" d="M305 1398h0"/>
<path stroke="#00008F" d="M776 1182h0M1092 885h0M1101 898h0M421 1099h0M867 979h0"/>
<path stroke="#0000FF" d="M593 1180h0"/>
<path stroke="#00009F" d="M653 1230h0"/>
<path stroke="#0000AF" d="M947 805h0"/>
<path stroke="#00008F" d="M454 1119h0M812 1068h0"/>
<path stroke="#0000AF" d="M799 957h0"/>
<path stroke="#00008F" d="M1075 886h0"/>
<path stroke="#0000CF" d="M562 1321h0"/>
<path stroke="#00009F" d="M567 1185h0"/>
<path stroke="#8FFF70" d="M304 1500h0"/>
<path stroke="#0000AF" d="M422 1091h0"/>
<path stroke="#00009F" d="M491 1269h0"/>
<path stroke="#00008F" d="M885 1125h0M1035 952h0"/>
<path stroke="#0000AF" d="M869 998h0"/>
<path stroke="#00008F" d="M979 1043h0"/>
<path stroke="#0000BF" d="M494 1093h0"/>
<path stroke="#00009F" d="M843 892h0"/>
<path stroke="#0000BF" d="M471 1295h0"/>
<path stroke="#0020FF" d="M502 1282h0"/>
<path stroke="#0000CF" d="M449 1154h0"/>
<path stroke="#0010FF" d="M590 1187h0"/>
<path stroke="#0000DF" d="M701 1032h0"/>
<path stroke="#009FFF" d="M426 1355h0"/>
<path stroke="#00009F" d="M442 1187h0"/>
<path stroke="#0000DF" d="M495 1387h0"/>
<path stroke="#0020FF" d="M599 1153h0"/>
<path stroke="#0000AF" d="M763 1133h0"/>
<path stroke="#0000BF" d="M658 1195h0M598 1031h0"/>
<path stroke="#0000FF" d="M693 1056h0"/>
<path stroke="#0000AF" d="M342 1362h0"/>
<path stroke="#0000CF" d="M797 913h0M631 1154h0"/>
<path stroke="#0020FF" d="M742 1045h0"/>
<path stroke="#00008F" d="M1143 831h0"/>
<path stroke="#00009F" d="M598 1087h0"/>
<path stroke="#0000AF" d="M900 964h0"/>
<path stroke="#0000DF" d="M410 1351h0"/>
<path stroke="#00008F" d="M833 868h0"/>
<path stroke="#0060FF" d="M374 1430h0"/>
<path stroke="#0000CF" d="M695 1081h0"/>
<path stroke="#0000FF" d="M454 1245h0"/>
<path stroke="#0000AF" d="M754 1037h0"/>
<path stroke="#00009F" d="M574 988h0"/>
<path stroke="#0000BF" d="M897 946h0"/>
<path stroke="#0000DF" d="M553 1289h0"/>
<path stroke="#0000CF" d="M687 1146h0M894 976h0"/>
<path stroke="#0010FF" d="M537 1127h0"/>
<path stroke="#0000CF" d="M560 1277h0"/>
<path stroke="#0050FF" d="M395 1263h0"/>
<path stroke="#0000EF" d="M474 1213h0"/>
<path stroke="#0000FF" d="M664 1056h0"/>
<path stroke="#0000BF" d="M406 1113h0"/>
<path stroke="#0000AF" d="M413 1271h0"/>
<path stroke="#0000DF" d="M478 1255h0"/>
<path stroke="#0010FF" d="M390 1232h0"/>
<path stroke="#0000DF" d="M767 1005h0"/>
<path stroke="#00009F" d="M431 1172h0"/>
<path stroke="#0000AF" d="M771 1072h0"/>
<path stroke="#00009F" d="M644 987h0"/>
<path stroke="#00008F" d="M660 1237h0"/>
<path stroke="#0000AF" d="M474 1101h0"/>
<path stroke="#0050FF" d="M471 1293h0"/>
<path stroke="#00009F" d="M437 1178h0"/>
<path stroke="#0010FF" d="M419 1231h0"/>
<path stroke="#00008F" d="M844 1143h0M641 949h0"/>
<path stroke="#008FFF" d="M337 1416h0"/>
<path stroke="#00008F" d="M835 1106h0"/>
<path stroke="#0050FF" d="M443 1272h0"/>
<path stroke="#0000DF" d="M588 1219h0"/>
<path stroke="#0000CF" d="M783 935h0"/>
<path stroke="#0000DF" d="M492 1179h0"/>
<path stroke="#00008F" d="M794 1045h0"/>
<path stroke="#0050FF" d="M467 1307h0"/>
<path stroke="#00009F" d="M770 1119h0"/>
<path stroke="#0000EF" d="M537 1306h0"/>
<path stroke="#0000DF" d="M668 1059h0"/>
<path stroke="#0030FF" d="M746 1045h0"/>
<path stroke="#0000AF" d="M693 1236h0"/>
<path stroke="#0000EF" d="M477 1359h0M696 1105h0"/>
<path stroke="#0030FF" d="M451 1299h0"/>
<path stroke="#00008F" d="M806 1202h0"/>
<path stroke="#0000CF" d="M765 1066h0"/>
<path stroke="#0030FF" d="M380 1449h0"/>
<path stroke="#0000EF" d="M673 1123h0"/>
<path stroke="#00008F" d="M605 1332h0"/>
<path stroke="#0000CF" d="M962 806h0"/>
<path stroke="#00009F" d="M369 1504h0"/>
<path stroke="#00008F" d="M1018 935h0"/>
<path stroke="#0000BF" d="M906 811h0"/>
<path stroke="#00EFFF" d="M386 1294h0"/>
<path stroke="#00009F" d="M736 1201h0"/>
<path stroke="#00008F" d="M902 1081h0M722 1218h0"/>
<path stroke="#0000BF" d="M744 1072h0M942 839h0"/>
<path stroke="#00008F" d="M716 1244h0"/>
<path stroke="#0000DF" d="M866 986h0"/>
<path stroke="#0000CF" d="M440 1179h0"/>
<path stroke="#50FFAF" d="M328 1479h0"/>
<path stroke="#0000EF" d="M426 1375h0M627 1038h0"/>
<path stroke="#00009F" d="M641 955h0M519 1295h0M520 1232h0"/>
<path stroke="#0050FF" d="M490 1323h0"/>
<path stroke="#0000AF" d="M761 1105h0"/>
<path stroke="#0080FF" d="M317 1423h0"/>
<path stroke="#0060FF" d="M341 1443h0"/>
<path stroke="#00009F" d="M428 1232h0"/>
<path stroke="#0000BF" d="M569 1306h0"/>
<path stroke="#0000CF" d="M432 1420h0"/>
<path stroke="#0000AF" d="M659 1241h0"/>
<path stroke="#0000BF" d="M480 1108h0"/>
<path stroke="#0000EF" d="M614 1134h0M350 1502h0"/>
<path stroke="#00009F" d="M758 1016h0"/>
<path stroke="#0000DF" d="M522 1353h0"/>
<path stroke="#0000EF" d="M429 1192h0"/>
<path stroke="#0000CF" d="M702 995h0"/>
<path stroke="#0080FF" d="M324 1348h0"/>
<path stroke="#0000FF" d="M545 1146h0"/>
<path stroke="#00009F" d="M808 866h0"/>
<path stroke="#0000EF" d="M857 932h0"/>
<path stroke="#00008F" d="M923 1009h0"/>
<path stroke="#00009F" d="M539 1268h0"/>
<path stroke="#0000BF" d="M511 1262h0"/>
<path stroke="#0000AF" d="M462 1325h0"/>
<path stroke="#0000BF" d="M800 1000h0M405 1113h0"/>
<path stroke="#0000FF" d="M372 1383h0"/>
<path stroke="#0000AF" d="M499 1337h0"/>
<path stroke="#00009F" d="M737 1136h0"/>
<path stroke="#00008F" d="M453 1058h0M1009 1042h0"/>
<path stroke="#0000CF" d="M594 1257h0"/>
<path stroke="#00009F" d="M725 934h0"/>
<path stroke="#0000AF" d="M538 1168h0"/>
<path stroke="#00008F" d="M761 926h0"/>
<path stroke="#0030FF" d="M600 1187h0"/>
<path stroke="#00008F" d="M852 1098h0"/>
<path stroke="#0000AF" d="M467 1364h0"/>
<path stroke="#00008F" d="M827 1188h0"/>
<path stroke="#0010FF" d="M480 1296h0"/>
<path stroke="#0000EF" d="M496 1348h0"/>
<path stroke="#0000AF" d="M732 983h0"/>
<path stroke="#00008F" d="M849 1073h0"/>
<path stroke="#0000EF" d="M376 1215h0"/>
<path stroke="#0000AF" d="M705 956h0"/>
<path stroke="#00008F" d="M951 897h0M694 933h0"/>
<path stroke="#00AFFF" d="M328 1519h0"/>
<path stroke="#0000AF" d="M494 1331h0"/>
<path stroke="#0020FF" d="M445 1244h0"/>
<path stroke="#0070FF" d="M427 1312h0"/>
<path stroke="#0000FF" d="M364 1380h0"/>
<path stroke="#0080FF" d="M333 1393h0"/>
<path stroke="#0000DF" d="M548 1306h0"/>
<path stroke="#00008F" d="M786 1084h0"/>
<path stroke="#0020FF" d="M649 1067h0"/>
<path stroke="#00009F" d="M714 1217h0"/>
<path stroke="#0000CF" d="M553 1271h0"/>
<path stroke="#0000DF" d="M721 1053h0"/>
<path stroke="#00008F" d="M561 1346h0"/>
<path stroke="#0000AF" d="M711 1162h0"/>
<path stroke="#0000EF" d="M797 938h0"/>
<path stroke="#0000FF" d="M426 1442h0"/>
<path stroke="#0030FF" d="M444 1253h0"/>
<path stroke="#0000FF" d="M486 1173h0"/>
<path stroke="#0000CF" d="M490 1143h0"/>
<path stroke="#0020FF" d="M589 1085h0"/>
<path stroke="#0000AF" d="M480 1223h0"/>
<path stroke="#0000EF" d="M689 1068h0"/>
<path stroke="#00008F" d="M776 1128h0"/>
<path stroke="#00009F" d="M588 996h0"/>
<path stroke="#0000CF" d="M841 969h0"/>
<path stroke="#40FFBF" d="M326 1456h0"/>
<path stroke="#0000AF" d="M639 1225h0"/>
<path stroke="#0080FF" d="M309 1437h0"/>
<path stroke="#00009F" d="M607 1259h0"/>
<path stroke="#0000CF" d="M804 1009h0"/>
<path stroke="#0040FF" d="M537 1140h0"/>
<path stroke="#0000DF" d="M455 1217h0"/>
<path stroke="#0080FF" d="M441 1241h0"/>
<path stroke="#0000EF" d="M671 1070h0"/>
<path stroke="#0000AF" d="M486 1290h0"/>
<path stroke="#00008F" d="M954 853h0M772 943h0M812 823h0M1099 939h0"/>
<path stroke="#0000FF" d="M509 1192h0"/>
<path stroke="#0000EF" d="M508 1132h0"/>
<path stroke="#0020FF" d="M451 1248h0"/>
<path stroke="#00009F" d="M970 927h0"/>
<path stroke="#0000BF" d="M651 1212h0"/>
<path stroke="#00008F" d="M969 904h0M441 1440h0M976 994h0"/>
<path stroke="#0000CF" d="M692 1077h0"/>
<path stroke="#0000BF" d="M399 1276h0"/>
<path stroke="#0000EF" d="M427 1376h0"/>
<path stroke="#0000AF" d="M375 1347h0"/>
<path stroke="#00008F" d="M1502 1253h0M1537 182h0M1349 273h0M1537 339h0M1306 379h0M1346 399h0M1262 397h0M1502 395h0M1284 436h0M1308 445h0M1309 458h0M1297 455h0M1271 461h0"/>
<path stroke="#0000AF" d="M1531 439h0M1532 459h0"/>
<path stroke="#00008F" d="M1515 468h0M1499 481h0M1349 468h0M1349 486h0M1406 471h0M1429 470h0M1407 488h0M1417 496h0"/>
<path stroke="#0000AF" d="M1389 496h0"/>
<path stroke="#00008F" d="M1371 499h0M1387 513h0M1374 517h0M1444 502h0M1331 492h0M1321 498h0M1296 504h0M1321 511h0"/>
<path stroke="#0000CF" d="M1343 508h0M1343 519h0"/>
<path stroke="#00008F" d="M1316 525h0M1481 519h0M1472 522h0M1441 527h0M1402 532h0M1507 532h0M1376 536h0M1282 540h0M1452 538h0M1257 492h0M1146 267h0M1208 446h0M1099 452h0M1114 449h0M1129 446h0M1181 463h0M1198 474h0M1207 483h0M1206 496h0M1243 471h0M1250 490h0M1027 463h0"/>
<path stroke="#0000AF" d="M1028 489h0"/>
<path stroke="#00008F" d="M1029 514h0M1151 498h0M1100 508h0M946 520h0M969 536h0M1010 540h0M1195 520h0M1204 533h0M1133 525h0M1142 526h0M1118 533h0M1216 540h0M1237 545h0M1167 547h0M1270 562h0M1306 556h0M1333 556h0"/>
<path stroke="#0000AF" d="M1341 553h0"/>
<path stroke="#00008F" d="M1445 547h0M1464 537h0M1497 569h0M1528 579h0M1402 573h0M1429 576h0M1320 578h0"/>
<path stroke="#0000CF" d="M1342 578h0"/>
<path stroke="#00008F" d="M1281 601h0"/>
<path stroke="#0000AF" d="M1313 599h0M1306 611h0"/>
<path stroke="#0000CF" d="M1287 618h0"/>
<path stroke="#0000AF" d="M1341 599h0M1352 601h0"/>
<path stroke="#00008F" d="M1386 604h0M1380 616h0M1370 635h0"/>
<path stroke="#0000CF" d="M1416 601h0"/>
<path stroke="#00008F" d="M1444 610h0M1452 613h0"/>
<path stroke="#0000AF" d="M1421 616h0M1429 617h0M1415 621h0"/>
<path stroke="#00008F" d="M1473 594h0M1512 602h0M1527 613h0M1529 629h0M1484 629h0M1448 638h0M1266 617h0M1275 638h0"/>
<path stroke="#0000CF" d="M1420 642h0M1424 648h0"/>
<path stroke="#00008F" d="M1447 658h0M1411 663h0M1484 651h0M1501 654h0M1484 676h0M1482 695h0"/>
<path stroke="#0000CF" d="M1281 654h0"/>
<path stroke="#00008F" d="M1296 651h0M1269 664h0M1315 669h0M1338 664h0"/>
<path stroke="#0000AF" d="M1356 669h0M1352 676h0"/>
<path stroke="#0000CF" d="M1433 676h0"/>
<path stroke="#00008F" d="M1447 685h0M1405 685h0M1384 691h0M1373 700h0M1386 704h0M1336 688h0M1338 697h0M1309 704h0M1286 688h0M1267 691h0"/>
<path stroke="#0000AF" d="M1450 701h0"/>
<path stroke="#0000CF" d="M1266 711h0"/>
<path stroke="#00008F" d="M1386 722h0M1372 735h0"/>
<path stroke="#0000AF" d="M1414 721h0M1414 732h0"/>
<path stroke="#00008F" d="M1452 725h0"/>
<path stroke="#0000AF" d="M1438 734h0M1481 734h0"/>
<path stroke="#00008F" d="M1481 756h0M1414 761h0M1353 756h0M1333 764h0M1319 735h0M1298 731h0M1285 738h0M1266 738h0M1266 746h0M1257 759h0M1304 779h0M1290 790h0"/>
<path stroke="#0000AF" d="M1319 791h0"/>
<path stroke="#00008F" d="M1333 802h0M1356 812h0M1356 821h0M1264 786h0M1275 801h0M1266 812h0M1294 821h0M1278 829h0"/>
<path stroke="#0000FF" d="M1321 829h0M1322 839h0"/>
<path stroke="#00008F" d="M1293 859h0M1489 838h0M1489 846h0M1529 831h0M1293 898h0M1258 943h0M1271 965h0M1323 998h0M921 1282h0M771 1259h0M804 1259h0M819 1238h0M826 1255h0M849 1247h0M771 1293h0M764 1307h0M759 1324h0M791 1216h0M769 1207h0"/>
<path stroke="#0000AF" d="M836 1209h0"/>
<path stroke="#00008F" d="M858 1207h0M874 1206h0"/>
<path stroke="#0000AF" d="M836 1201h0"/>
<path stroke="#00008F" d="M855 1188h0M892 1187h0M910 1178h0M883 1163h0M884 1150h0M878 1135h0M910 1138h0M932 1132h0M1024 1147h0M1024 1116h0M995 1104h0"/>
<path stroke="#0000AF" d="M959 1095h0"/>
<path stroke="#00008F" d="M963 1072h0M994 1067h0M964 1055h0M1135 1104h0M1135 1066h0M1099 1047h0M910 1064h0M917 1095h0"/>
<path stroke="#0000CF" d="M914 1114h0"/>
<path stroke="#00008F" d="M804 1167h0M833 1164h0M849 1173h0"/>
<path stroke="#0000CF" d="M810 1185h0"/>
<path stroke="#00008F" d="M1021 1037h0M1071 1031h0M1152 1030h0M991 1041h0"/>
<path stroke="#0000AF" d="M955 1041h0M917 1040h0"/>
<path stroke="#00008F" d="M598 730h0M635 735h0M655 741h0M683 756h0M766 727h0M747 744h0M720 756h0M760 758h0M734 762h0M573 759h0M572 774h0M574 786h0M574 801h0M598 772h0M609 792h0M609 807h0M636 765h0M635 775h0M670 765h0M669 780h0M654 798h0M692 780h0M720 800h0M746 777h0M757 792h0M769 801h0M749 809h0"/>
<path stroke="#0000AF" d="M769 809h0"/>
<path stroke="#00008F" d="M668 821h0"/>
<path stroke="#0000AF" d="M628 827h0"/>
<path stroke="#00008F" d="M605 840h0M645 838h0M654 849h0M669 849h0"/>
<path stroke="#0000AF" d="M691 851h0"/>
<path stroke="#00008F" d="M725 821h0M720 845h0M734 836h0M556 833h0"/>
<path stroke="#0000CF" d="M556 859h0"/>
<path stroke="#00008F" d="M641 872h0M546 882h0M564 884h0"/>
<path stroke="#0000AF" d="M604 884h0"/>
<path stroke="#00008F" d="M598 900h0M540 903h0M571 900h0M569 918h0M501 925h0"/>
<path stroke="#0000CF" d="M592 916h0"/>
<path stroke="#00008F" d="M633 916h0"/>
<path stroke="#0000FF" d="M592 938h0"/>
<path stroke="#00008F" d="M627 937h0M544 946h0M568 947h0M568 958h0M503 956h0"/>
<path stroke="#0000AF" d="M519 955h0"/>
<path stroke="#00008F" d="M503 975h0M524 972h0"/>
<path stroke="#0000CF" d="M544 984h0"/>
<path stroke="#00008F" d="M522 987h0M503 1015h0M430 1030h0M402 1046h0M464 1037h0"/>
<path stroke="#0000AF" d="M481 1032h0M452 1049h0"/>
<path stroke="#00008F" d="M506 1049h0M535 1043h0M642 1355h0M652 1388h0M620 1392h0M620 1403h0M565 1386h0M565 1400h0M566 1425h0M520 1419h0M479 1442h0M438 1460h0M318 1243h0M330 1287h0M379 1152h0M368 1190h0M367 1204h0"/>
<path stroke="#0000AF" d="M368 1220h0M369 1227h0M361 1264h0"/>
<path stroke="#00008F" d="M363 1272h0"/>
<path stroke="#0000FF" d="M373 1245h0"/>
<path stroke="#0000AF" d="M379 1109h0"/>
<path stroke="#0000FF" d="M383 1124h0"/>
<path stroke="#00008F" d="M386 1086h0M402 1059h0"/>
<path stroke="#0000CF" d="M403 1078h0M403 1124h0"/>
<path stroke="#00008F" d="M412 1152h0"/>
<path stroke="#0000AF" d="M407 1177h0"/>
<path stroke="#0000CF" d="M406 1196h0"/>
<path stroke="#00008F" d="M398 1213h0M391 1227h0M391 1250h0M309 1384h0M329 1331h0"/>
<path stroke="#0000AF" d="M314 1361h0M302 1413h0M301 1431h0"/>
<path stroke="#0000CF" d="M301 1447h0"/>
<path stroke="#00DFFF" d="M303 1466h0"/>
<path stroke="#50FFAF" d="M299 1481h0"/>
<path stroke="#FFDF00" d="M298 1493h0"/>
<path stroke="#80FF80" d="M304 1525h0"/>
<path stroke="#CFFF30" d="M301 1509h0"/>
<path stroke="#00008F" d="M335 1521h0M367 1523h0"/>
<path stroke="#0000FF" d="M389 1497h0"/>
<path stroke="#0000CF" d="M354 1502h0"/>
<path stroke="#FF8F00" d="M319 1503h0M324 1509h0"/>
<path stroke="#AFFF50" d="M332 1490h0"/>
<path stroke="#FF4000" d="M317 1481h0"/>
<path stroke="#800000" d="M328 1473h0M330 1460h0"/>
<path stroke="#60FF9F" d="M339 1466h0"/>
<path stroke="#10FFEF" d="M403 1477h0M408 1483h0"/>
<path stroke="#008FFF" d="M403 1447h0M407 1453h0"/>
<path stroke="#FF8F00" d="M367 1432h0"/>
<path stroke="#00008F" d="M444 1457h0M480 1420h0M497 1397h0M436 1423h0M1134 997h0M1056 999h0M1068 978h0M1021 1029h0"/>
<path stroke="#0000FF" d="M1032 993h0"/>
<path stroke="#00008F" d="M1231 906h0M1207 900h0M1183 913h0M1175 934h0M1189 922h0M1151 900h0M1228 962h0M1222 974h0M1237 875h0M1243 839h0M1180 875h0M1195 860h0M1086 949h0M1109 955h0"/>
<path stroke="#0000FF" d="M1098 922h0M1118 922h0M1083 925h0"/>
<path stroke="#00008F" d="M821 647h0M797 694h0M990 570h0M1050 562h0M1075 558h0M1070 569h0M1105 566h0M1127 549h0M1098 585h0M1088 600h0M1026 594h0M1031 609h0M1026 625h0M1060 603h0M1054 624h0M1075 619h0M1084 625h0M979 615h0M996 622h0M986 639h0M994 644h0M1135 607h0"/>
<path stroke="#0000AF" d="M1114 619h0M1105 630h0M1093 641h0"/>
<path stroke="#00008F" d="M1128 648h0M900 642h0M927 648h0M946 648h0M917 657h0M879 658h0M962 662h0M987 667h0M1007 674h0M1017 679h0M1031 679h0M1041 657h0M1062 665h0M1091 660h0"/>
<path stroke="#0000AF" d="M1105 660h0"/>
<path stroke="#00008F" d="M1093 674h0M1111 685h0M847 686h0M855 704h0M866 693h0M892 679h0M889 692h0M880 704h0M946 685h0"/>
<path stroke="#0000CF" d="M968 685h0M963 692h0"/>
<path stroke="#00008F" d="M976 690h0M923 699h0M937 709h0M996 702h0M1025 699h0M1060 697h0"/>
<path stroke="#0000AF" d="M1058 715h0M1060 723h0"/>
<path stroke="#00008F" d="M1091 709h0M1093 723h0M1126 706h0M1130 714h0M767 739h0M790 749h0M801 746h0M813 760h0"/>
<path stroke="#0000AF" d="M846 737h0M883 723h0M890 732h0"/>
<path stroke="#00008F" d="M901 720h0M915 729h0M936 727h0M929 720h0M967 714h0M965 730h0"/>
<path stroke="#0000AF" d="M993 725h0M986 736h0M980 743h0M966 746h0"/>
<path stroke="#00008F" d="M1010 737h0"/>
<path stroke="#0000AF" d="M1019 750h0M1028 746h0"/>
<path stroke="#00008F" d="M1040 755h0M1075 736h0M1091 739h0M864 748h0M882 744h0M852 767h0M873 760h0M896 757h0M880 774h0M899 769h0M919 751h0M936 757h0M920 776h0"/>
<path stroke="#0000CF" d="M951 769h0"/>
<path stroke="#0000AF" d="M936 773h0"/>
<path stroke="#00008F" d="M982 766h0M975 776h0M1017 778h0"/>
<path stroke="#0000CF" d="M1093 753h0M1090 769h0"/>
<path stroke="#00008F" d="M1121 748h0M1130 769h0M821 794h0"/>
<path stroke="#0000AF" d="M868 790h0M890 790h0"/>
<path stroke="#0000CF" d="M1053 789h0"/>
<path stroke="#0000AF" d="M936 792h0"/>
<path stroke="#00008F" d="M1091 787h0M1146 552h0M1180 549h0M1195 564h0M1177 597h0M1189 603h0M1206 591h0M1204 599h0M1146 612h0"/>
<path stroke="#0000AF" d="M1143 634h0M1153 629h0"/>
<path stroke="#00008F" d="M1189 619h0M1188 641h0M1165 661h0"/>
<path stroke="#0000AF" d="M1194 665h0"/>
<path stroke="#00008F" d="M1129 676h0M1131 691h0"/>
<path stroke="#0000AF" d="M1223 617h0"/>
<path stroke="#00008F" d="M1235 612h0M1236 622h0M1226 644h0M1221 653h0M1235 664h0M1247 676h0M1209 676h0M1208 691h0"/>
<path stroke="#0000AF" d="M1171 692h0M1170 703h0M1195 703h0"/>
<path stroke="#00008F" d="M1209 717h0M1191 718h0"/>
<path stroke="#0000AF" d="M1224 700h0"/>
<path stroke="#00008F" d="M1241 691h0M1242 711h0"/>
<path stroke="#0000AF" d="M1135 742h0M1143 751h0"/>
<path stroke="#00008F" d="M1164 751h0"/>
<path stroke="#0000AF" d="M1189 738h0M1188 747h0"/>
<path stroke="#00008F" d="M1233 733h0M1250 738h0M1226 751h0"/>
<path stroke="#0000AF" d="M1224 763h0"/>
<path stroke="#0000FF" d="M1242 757h0"/>
<path stroke="#0000CF" d="M1242 770h0M1165 774h0"/>
<path stroke="#0000AF" d="M1140 773h0"/>
<path stroke="#00008F" d="M1138 788h0M1179 788h0"/>
<path stroke="#0000AF" d="M1226 792h0"/>
<path stroke="#00008F" d="M1256 785h0"/>
<path stroke="#00EFFF" d="M543 1257h0M496 1329h0"/>
<path stroke="#0080FF" d="M487 1211h0M558 1209h0M556 1173h0"/>
<path stroke="#009FFF" d="M541 1211h0M476 1317h0"/>
<path stroke="#0070FF" d="M443 1317h0"/>
<path stroke="#0040FF" d="M587 1265h0"/>
<path stroke="#0060FF" d="M526 1202h0"/>
<path stroke="#009FFF" d="M387 1401h0"/>
<path stroke="#00BFFF" d="M389 1358h0"/>
<path stroke="#00AFFF" d="M428 1349h0"/>
<path stroke="#0070FF" d="M414 1336h0"/>
<path stroke="#0020FF" d="M426 1166h0M449 1240h0M473 1361h0M526 1312h0"/>
<path stroke="#60FF9F" d="M504 1272h0M506 1281h0"/>
<path stroke="#BFFF40" d="M500 1303h0"/>
<path stroke="#00008F" d="M605 1176h0"/>
<path stroke="#0000CF" d="M543 1235h0"/>
<path stroke="#00008F" d="M476 1270h0M473 1289h0M419 1307h0M555 1277h0"/>
<path stroke="#00009F" d="M447 1281h0"/>
<path stroke="#00008F" d="M664 1281h0M642 1301h0M642 1315h0M603 1320h0M603 1342h0M641 1356h0M652 1388h0"/>
<path stroke="#00009F" d="M621 1394h0"/>
<path stroke="#00008F" d="M566 1387h0M566 1401h0M520 1420h0M566 1425h0M473 1380h0M560 1356h0M498 1397h0"/>
<path stroke="#0030FF" d="M1078 814h0M1089 818h0"/>
<path stroke="#0010FF" d="M1052 804h0"/>
<path stroke="#0060FF" d="M1038 884h0M1040 913h0"/>
<path stroke="#0000FF" d="M1083 923h0M1098 922h0M1115 922h0"/>
<path stroke="#00CFFF" d="M800 998h0"/>
<path stroke="#00BFFF" d="M886 960h0"/>
<path stroke="#0060FF" d="M859 984h0M862 996h0"/>
<path stroke="#0030FF" d="M810 934h0"/>
<path stroke="#0020FF" d="M831 937h0"/>
<path stroke="#0040FF" d="M858 910h0"/>
<path stroke="#0020FF" d="M917 881h0M1003 978h0M988 996h0M952 981h0"/>
<path stroke="#0000FF" d="M1032 995h0M790 940h0M819 895h0M884 1026h0"/>
<path stroke="#0060FF" d="M858 1029h0"/>
<path stroke="#0000FF" d="M1246 759h0"/>
<path stroke="#0000DF" d="M1263 712h0"/>
<path stroke="#0000BF" d="M1053 715h0M1059 724h0"/>
<path stroke="#00008F" d="M1035 892h0M1027 940h0M887 984h0M778 960h0"/>
<path stroke="#0000FF" d="M838 1061h0M822 1092h0"/>
<path stroke="#0030FF" d="M889 1078h0"/>
<path stroke="#0040FF" d="M790 1126h0"/>
<path stroke="#0020FF" d="M831 1132h0"/>
<path stroke="#0000EF" d="M843 1099h0"/>
<path stroke="#0000DF" d="M787 1078h0"/>
<path stroke="#0020FF" d="M760 978h0"/>
<path stroke="#0060FF" d="M741 978h0"/>
<path stroke="#0000FF" d="M587 1020h0M686 1029h0M704 1011h0"/>
<path stroke="#0000CF" d="M760 881h0"/>
<path stroke="#0000BF" d="M769 851h0"/>
<path stroke="#00008F" d="M752 990h0"/></g>
</g>
<line x1="300.3" y1="1507.7" x2="1537.8" y2="270.6" stroke="#FF00FF" stroke-width="4.2" stroke-linecap="butt"/>
<g stroke="#262626" stroke-width="4.2" fill="none" stroke-linecap="butt">
<path d="M269.0 36.2 V1538.7 H1771.1"/>
<path d="M269.0 1238.6 H286.0"/>
<path d="M569.0 1538.7 V1521.7"/>
<path d="M269.0 938.5 H286.0"/>
<path d="M869.0 1538.7 V1521.7"/>
<path d="M269.0 638.5 H286.0"/>
<path d="M1169.0 1538.7 V1521.7"/>
<path d="M269.0 338.4 H286.0"/>
<path d="M1469.0 1538.7 V1521.7"/>
<path d="M269.0 38.3 H286.0"/>
<path d="M1769.0 1538.7 V1521.7"/>
</g>
<g fill="#262626" font-size="83.3">
<text transform="translate(236.6 1570.7) scale(1 1.035)" text-anchor="end">0</text>
<text transform="translate(268.2 1648.8) scale(1 1.035)" text-anchor="middle">0</text>
<text transform="translate(236.6 1270.6) scale(1 1.035)" text-anchor="end">0.2</text>
<text transform="translate(568.2 1648.8) scale(1 1.035)" text-anchor="middle">0.2</text>
<text transform="translate(236.6 970.5) scale(1 1.035)" text-anchor="end">0.4</text>
<text transform="translate(868.2 1648.8) scale(1 1.035)" text-anchor="middle">0.4</text>
<text transform="translate(236.6 670.5) scale(1 1.035)" text-anchor="end">0.6</text>
<text transform="translate(1168.2 1648.8) scale(1 1.035)" text-anchor="middle">0.6</text>
<text transform="translate(236.6 370.4) scale(1 1.035)" text-anchor="end">0.8</text>
<text transform="translate(1468.2 1648.8) scale(1 1.035)" text-anchor="middle">0.8</text>
<text transform="translate(232.5 70.3) scale(1 1.035)" text-anchor="end">1</text>
<text transform="translate(1768.2 1648.8) scale(1 1.035)" text-anchor="middle">1</text>
</g>
<text x="1019.6" y="1757.3" text-anchor="middle" font-size="92.4" fill="#262626">SMOS SIT (m)</text>
<text transform="translate(93.3 789.0) rotate(-90)" text-anchor="middle" font-size="92.2" fill="#262626">TDS-1 SIT (m)</text>
<rect x="359.1" y="83.3" width="666.8" height="196.6" fill="#fff" stroke="#262626" stroke-width="4.2"/>
<circle cx="466.5" cy="136.3" r="18.6" fill="#00008F"/>
<line x1="376" y1="226.6" x2="556" y2="226.6" stroke="#FF00FF" stroke-width="4.2"/>
<text x="569.5" y="162.6" font-size="75.4" fill="#000">SIT estimates</text>
<text x="569.2" y="253.4" font-size="75.4" fill="#000">Reference line</text>
<g shape-rendering="crispEdges">
<rect x="1873.8" y="1515.26" width="94.0" height="24.04" fill="#00008F"/>
<rect x="1873.8" y="1491.81" width="94.0" height="24.04" fill="#00009F"/>
<rect x="1873.8" y="1468.37" width="94.0" height="24.04" fill="#0000AF"/>
<rect x="1873.8" y="1444.92" width="94.0" height="24.04" fill="#0000BF"/>
<rect x="1873.8" y="1421.48" width="94.0" height="24.04" fill="#0000CF"/>
<rect x="1873.8" y="1398.04" width="94.0" height="24.04" fill="#0000DF"/>
<rect x="1873.8" y="1374.59" width="94.0" height="24.04" fill="#0000EF"/>
<rect x="1873.8" y="1351.15" width="94.0" height="24.04" fill="#0000FF"/>
<rect x="1873.8" y="1327.71" width="94.0" height="24.04" fill="#0010FF"/>
<rect x="1873.8" y="1304.26" width="94.0" height="24.04" fill="#0020FF"/>
<rect x="1873.8" y="1280.82" width="94.0" height="24.04" fill="#0030FF"/>
<rect x="1873.8" y="1257.38" width="94.0" height="24.04" fill="#0040FF"/>
<rect x="1873.8" y="1233.93" width="94.0" height="24.04" fill="#0050FF"/>
<rect x="1873.8" y="1210.49" width="94.0" height="24.04" fill="#0060FF"/>
<rect x="1873.8" y="1187.04" width="94.0" height="24.04" fill="#0070FF"/>
<rect x="1873.8" y="1163.60" width="94.0" height="24.04" fill="#0080FF"/>
<rect x="1873.8" y="1140.16" width="94.0" height="24.04" fill="#008FFF"/>
<rect x="1873.8" y="1116.71" width="94.0" height="24.04" fill="#009FFF"/>
<rect x="1873.8" y="1093.27" width="94.0" height="24.04" fill="#00AFFF"/>
<rect x="1873.8" y="1069.83" width="94.0" height="24.04" fill="#00BFFF"/>
<rect x="1873.8" y="1046.38" width="94.0" height="24.04" fill="#00CFFF"/>
<rect x="1873.8" y="1022.94" width="94.0" height="24.04" fill="#00DFFF"/>
<rect x="1873.8" y="999.49" width="94.0" height="24.04" fill="#00EFFF"/>
<rect x="1873.8" y="976.05" width="94.0" height="24.04" fill="#00FFFF"/>
<rect x="1873.8" y="952.61" width="94.0" height="24.04" fill="#10FFEF"/>
<rect x="1873.8" y="929.16" width="94.0" height="24.04" fill="#20FFDF"/>
<rect x="1873.8" y="905.72" width="94.0" height="24.04" fill="#30FFCF"/>
<rect x="1873.8" y="882.27" width="94.0" height="24.04" fill="#40FFBF"/>
<rect x="1873.8" y="858.83" width="94.0" height="24.04" fill="#50FFAF"/>
<rect x="1873.8" y="835.39" width="94.0" height="24.04" fill="#60FF9F"/>
<rect x="1873.8" y="811.94" width="94.0" height="24.04" fill="#70FF8F"/>
<rect x="1873.8" y="788.50" width="94.0" height="24.04" fill="#80FF80"/>
<rect x="1873.8" y="765.06" width="94.0" height="24.04" fill="#8FFF70"/>
<rect x="1873.8" y="741.61" width="94.0" height="24.04" fill="#9FFF60"/>
<rect x="1873.8" y="718.17" width="94.0" height="24.04" fill="#AFFF50"/>
<rect x="1873.8" y="694.73" width="94.0" height="24.04" fill="#BFFF40"/>
<rect x="1873.8" y="671.28" width="94.0" height="24.04" fill="#CFFF30"/>
<rect x="1873.8" y="647.84" width="94.0" height="24.04" fill="#DFFF20"/>
<rect x="1873.8" y="624.39" width="94.0" height="24.04" fill="#EFFF10"/>
<rect x="1873.8" y="600.95" width="94.0" height="24.04" fill="#FFFF00"/>
<rect x="1873.8" y="577.51" width="94.0" height="24.04" fill="#FFEF00"/>
<rect x="1873.8" y="554.06" width="94.0" height="24.04" fill="#FFDF00"/>
<rect x="1873.8" y="530.62" width="94.0" height="24.04" fill="#FFCF00"/>
<rect x="1873.8" y="507.17" width="94.0" height="24.04" fill="#FFBF00"/>
<rect x="1873.8" y="483.73" width="94.0" height="24.04" fill="#FFAF00"/>
<rect x="1873.8" y="460.29" width="94.0" height="24.04" fill="#FF9F00"/>
<rect x="1873.8" y="436.84" width="94.0" height="24.04" fill="#FF8F00"/>
<rect x="1873.8" y="413.40" width="94.0" height="24.04" fill="#FF8000"/>
<rect x="1873.8" y="389.96" width="94.0" height="24.04" fill="#FF7000"/>
<rect x="1873.8" y="366.51" width="94.0" height="24.04" fill="#FF6000"/>
<rect x="1873.8" y="343.07" width="94.0" height="24.04" fill="#FF5000"/>
<rect x="1873.8" y="319.62" width="94.0" height="24.04" fill="#FF4000"/>
<rect x="1873.8" y="296.18" width="94.0" height="24.04" fill="#FF3000"/>
<rect x="1873.8" y="272.74" width="94.0" height="24.04" fill="#FF2000"/>
<rect x="1873.8" y="249.29" width="94.0" height="24.04" fill="#FF1000"/>
<rect x="1873.8" y="225.85" width="94.0" height="24.04" fill="#FF0000"/>
<rect x="1873.8" y="202.41" width="94.0" height="24.04" fill="#EF0000"/>
<rect x="1873.8" y="178.96" width="94.0" height="24.04" fill="#DF0000"/>
<rect x="1873.8" y="155.52" width="94.0" height="24.04" fill="#CF0000"/>
<rect x="1873.8" y="132.08" width="94.0" height="24.04" fill="#BF0000"/>
<rect x="1873.8" y="108.63" width="94.0" height="24.04" fill="#AF0000"/>
<rect x="1873.8" y="85.19" width="94.0" height="24.04" fill="#9F0000"/>
<rect x="1873.8" y="61.74" width="94.0" height="24.04" fill="#8F0000"/>
<rect x="1873.8" y="38.30" width="94.0" height="24.04" fill="#800000"/>
</g>
<rect x="1873.8" y="38.3" width="94.0" height="1500.4" fill="none" stroke="#262626" stroke-width="3.6"/>
<g stroke="#262626" stroke-width="4.2">
<line x1="1951.8" y1="1440.5" x2="1967.8" y2="1440.5"/>
<line x1="1951.8" y1="1284.7" x2="1967.8" y2="1284.7"/>
<line x1="1951.8" y1="1128.9" x2="1967.8" y2="1128.9"/>
<line x1="1951.8" y1="973.1" x2="1967.8" y2="973.1"/>
<line x1="1951.8" y1="817.3" x2="1967.8" y2="817.3"/>
<line x1="1951.8" y1="661.5" x2="1967.8" y2="661.5"/>
<line x1="1951.8" y1="505.7" x2="1967.8" y2="505.7"/>
<line x1="1951.8" y1="349.9" x2="1967.8" y2="349.9"/>
<line x1="1951.8" y1="194.1" x2="1967.8" y2="194.1"/>
</g>
<g fill="#262626" font-size="75">
<text x="1995.3" y="1466.7">10</text>
<text x="1995.3" y="1310.9">20</text>
<text x="1995.3" y="1155.1">30</text>
<text x="1995.3" y="999.3">40</text>
<text x="1995.3" y="843.5">50</text>
<text x="1995.3" y="687.7">60</text>
<text x="1995.3" y="531.9">70</text>
<text x="1995.3" y="376.1">80</text>
<text x="1995.3" y="220.3">90</text>
<text x="1995.3" y="64.5">100</text>
</g>
<text transform="translate(2202 789.6) rotate(-90)" text-anchor="middle" font-size="75.7" fill="#262626">Data density (%)</text>
</svg></body></html>
